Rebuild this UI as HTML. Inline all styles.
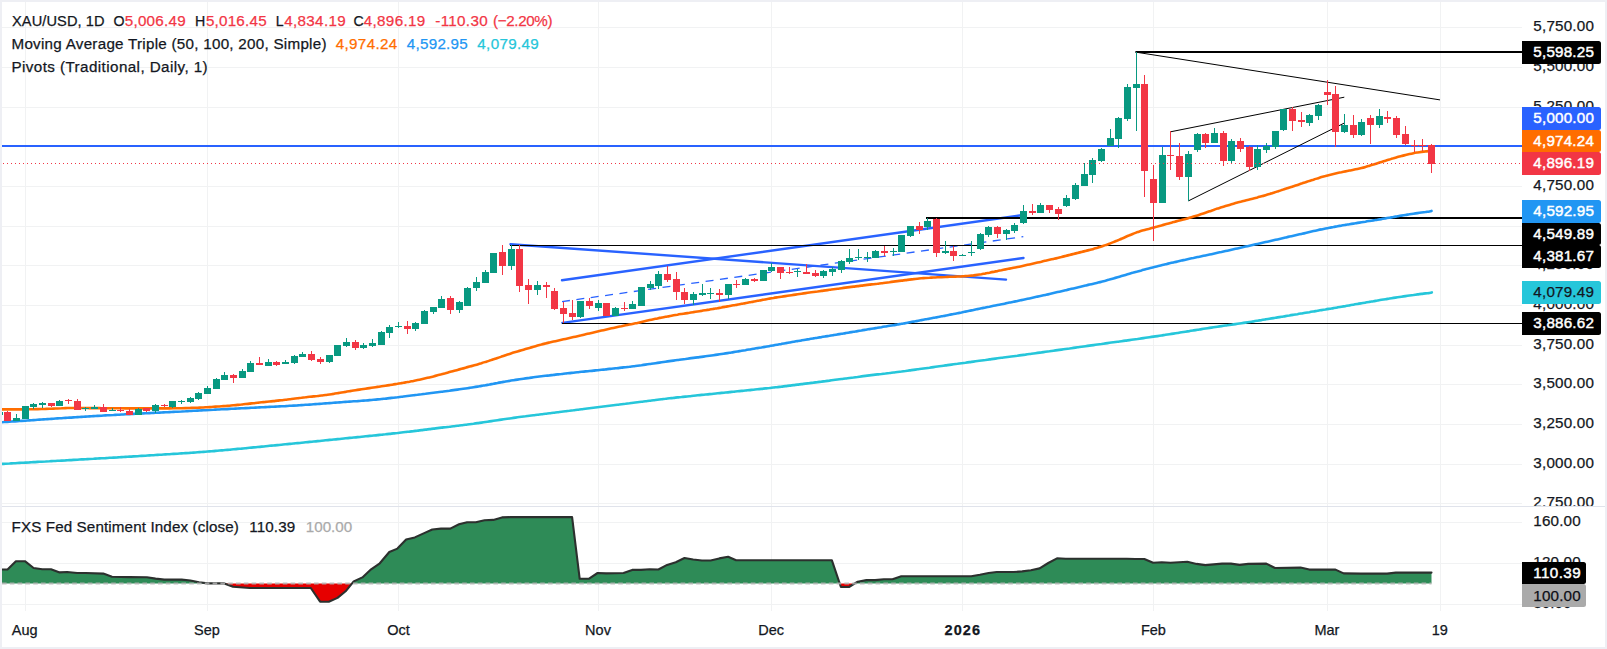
<!DOCTYPE html>
<html lang="en"><head><meta charset="utf-8"><title>XAU/USD 1D chart</title>
<style>html,body{margin:0;padding:0;background:#fff;overflow:hidden}svg{display:block}text{white-space:pre}</style></head>
<body>
<svg width="1607" height="649" viewBox="0 0 1607 649" font-family="Liberation Sans, Arial, sans-serif" font-size="15.2">
<rect x="0" y="0" width="1607" height="649" fill="#fff"/>
<g stroke="#f1f2f3" stroke-width="1" shape-rendering="crispEdges">
<line x1="2" x2="1522" y1="27.5" y2="27.5"/>
<line x1="2" x2="1522" y1="67.5" y2="67.5"/>
<line x1="2" x2="1522" y1="107.5" y2="107.5"/>
<line x1="2" x2="1522" y1="146.5" y2="146.5"/>
<line x1="2" x2="1522" y1="186.5" y2="186.5"/>
<line x1="2" x2="1522" y1="226.5" y2="226.5"/>
<line x1="2" x2="1522" y1="265.5" y2="265.5"/>
<line x1="2" x2="1522" y1="305.5" y2="305.5"/>
<line x1="2" x2="1522" y1="345.5" y2="345.5"/>
<line x1="2" x2="1522" y1="384.5" y2="384.5"/>
<line x1="2" x2="1522" y1="424.5" y2="424.5"/>
<line x1="2" x2="1522" y1="464.5" y2="464.5"/>
<line x1="2" x2="1522" y1="503.5" y2="503.5"/>
<line x1="2" x2="1522" y1="522.5" y2="522.5"/>
<line x1="2" x2="1522" y1="563.5" y2="563.5"/>
<line x1="2" x2="1522" y1="604.5" y2="604.5"/>
<line x1="25.5" x2="25.5" y1="2" y2="611"/>
<line x1="207.5" x2="207.5" y1="2" y2="611"/>
<line x1="398.5" x2="398.5" y1="2" y2="611"/>
<line x1="598.5" x2="598.5" y1="2" y2="611"/>
<line x1="771.5" x2="771.5" y1="2" y2="611"/>
<line x1="962.5" x2="962.5" y1="2" y2="611"/>
<line x1="1153.5" x2="1153.5" y1="2" y2="611"/>
<line x1="1327.5" x2="1327.5" y1="2" y2="611"/>
<line x1="1440.5" x2="1440.5" y1="2" y2="611"/>
</g>
<clipPath id="mp"><rect x="2" y="2" width="1520" height="504"/></clipPath>
<clipPath id="ma"><rect x="1522" y="2" width="83" height="504"/></clipPath>
<clipPath id="ip"><rect x="2" y="507" width="1520" height="104"/></clipPath>
<clipPath id="ia"><rect x="1522" y="507" width="83" height="104"/></clipPath>
<g clip-path="url(#mp)">
<line x1="0" x2="1522" y1="146" y2="146" stroke="#2962ff" stroke-width="2"/>
<g stroke="#2962ff" stroke-width="2.4" fill="none" stroke-linecap="round">
<line x1="510.5" y1="244.2" x2="1006" y2="279.6"/>
<line x1="562" y1="280.3" x2="1023.3" y2="215"/>
<line x1="562.4" y1="322.9" x2="1023.5" y2="258"/>
<line x1="562" y1="301.6" x2="1023.3" y2="236.7" stroke-width="1.3" stroke-dasharray="8 6.5" stroke-linecap="butt"/>
</g>
<g stroke="#000" fill="none">
<line x1="510" y1="245.5" x2="1522" y2="245.5" stroke-width="1"/>
<line x1="562" y1="323.5" x2="1522" y2="323.5" stroke-width="1"/>
<line x1="926" y1="218" x2="1522" y2="218" stroke-width="2"/>
<line x1="1135.5" y1="52" x2="1522" y2="52" stroke-width="2"/>
<line x1="1135.6" y1="52.1" x2="1440" y2="99.9" stroke-width="1"/>
<line x1="1170.5" y1="131.8" x2="1344.3" y2="97.2" stroke-width="1"/>
<line x1="1188.4" y1="200.9" x2="1344" y2="123.2" stroke-width="1"/>
</g>
<path d="M1.5,463.9C2.2,463.9 4.2,463.8 5.5,463.7C6.8,463.6 8.2,463.5 9.5,463.5C10.8,463.4 12.2,463.3 13.5,463.2C14.8,463.2 16.2,463.1 17.5,463.0C18.8,462.9 20.2,462.9 21.5,462.8C22.8,462.7 24.2,462.7 25.5,462.6C26.8,462.5 28.2,462.4 29.5,462.4C30.8,462.3 32.2,462.2 33.5,462.1C34.8,462.1 36.2,462.0 37.5,461.9C38.8,461.8 40.2,461.8 41.5,461.7C42.8,461.6 44.2,461.5 45.5,461.5C46.8,461.4 48.2,461.3 49.5,461.3C50.8,461.2 52.2,461.1 53.5,461.0C54.8,461.0 56.2,460.9 57.5,460.8C58.8,460.7 60.2,460.7 61.5,460.6C62.8,460.5 64.2,460.4 65.5,460.4C66.8,460.3 68.2,460.2 69.5,460.1C70.8,460.1 72.2,460.0 73.5,459.9C74.8,459.8 76.2,459.7 77.5,459.7C78.8,459.6 80.2,459.5 81.5,459.4C82.8,459.4 84.2,459.3 85.5,459.2C86.8,459.1 88.2,459.1 89.5,459.0C90.8,458.9 92.2,458.8 93.5,458.8C94.8,458.7 96.2,458.6 97.5,458.5C98.8,458.4 100.2,458.4 101.5,458.3C102.8,458.2 104.2,458.1 105.5,458.1C106.8,458.0 108.2,457.9 109.5,457.8C110.8,457.7 112.2,457.7 113.5,457.6C114.8,457.5 116.2,457.4 117.5,457.4C118.8,457.3 120.2,457.2 121.5,457.1C122.8,457.0 124.2,457.0 125.5,456.9C126.8,456.8 128.2,456.7 129.5,456.6C130.8,456.6 132.2,456.5 133.5,456.4C134.8,456.3 136.2,456.2 137.5,456.2C138.8,456.1 140.2,456.0 141.5,455.9C142.8,455.8 144.2,455.7 145.5,455.7C146.8,455.6 148.2,455.5 149.5,455.4C150.8,455.3 152.2,455.3 153.5,455.2C154.8,455.1 156.2,455.0 157.5,454.9C158.8,454.8 160.2,454.8 161.5,454.7C162.8,454.6 164.2,454.5 165.5,454.4C166.8,454.3 168.2,454.3 169.5,454.2C170.8,454.1 172.2,454.0 173.5,453.9C174.8,453.8 176.2,453.7 177.5,453.7C178.8,453.6 180.2,453.5 181.5,453.4C182.8,453.3 184.2,453.2 185.5,453.1C186.8,453.0 188.2,452.9 189.5,452.9C190.8,452.8 192.2,452.7 193.5,452.6C194.8,452.5 196.2,452.4 197.5,452.3C198.8,452.2 200.2,452.1 201.5,452.0C202.8,451.9 204.2,451.8 205.5,451.7C206.8,451.6 208.2,451.5 209.5,451.4C210.8,451.3 212.2,451.2 213.5,451.1C214.8,451.0 216.2,450.8 217.5,450.7C218.8,450.6 220.2,450.5 221.5,450.4C222.8,450.3 224.2,450.1 225.5,450.0C226.8,449.9 228.2,449.8 229.5,449.7C230.8,449.6 232.2,449.4 233.5,449.3C234.8,449.2 236.2,449.1 237.5,448.9C238.8,448.8 240.2,448.7 241.5,448.6C242.8,448.4 244.2,448.3 245.5,448.2C246.8,448.1 248.2,447.9 249.5,447.8C250.8,447.7 252.2,447.5 253.5,447.4C254.8,447.3 256.2,447.2 257.5,447.0C258.8,446.9 260.2,446.8 261.5,446.6C262.8,446.5 264.2,446.4 265.5,446.2C266.8,446.1 268.2,446.0 269.5,445.8C270.8,445.7 272.2,445.6 273.5,445.5C274.8,445.3 276.2,445.2 277.5,445.1C278.8,444.9 280.2,444.8 281.5,444.7C282.8,444.5 284.2,444.4 285.5,444.3C286.8,444.2 288.2,444.0 289.5,443.9C290.8,443.8 292.2,443.6 293.5,443.5C294.8,443.4 296.2,443.2 297.5,443.1C298.8,443.0 300.2,442.9 301.5,442.7C302.8,442.6 304.2,442.5 305.5,442.3C306.8,442.2 308.2,442.1 309.5,441.9C310.8,441.8 312.2,441.7 313.5,441.5C314.8,441.4 316.2,441.3 317.5,441.1C318.8,441.0 320.2,440.9 321.5,440.7C322.8,440.6 324.2,440.5 325.5,440.3C326.8,440.2 328.2,440.1 329.5,439.9C330.8,439.8 332.2,439.7 333.5,439.5C334.8,439.4 336.2,439.3 337.5,439.1C338.8,439.0 340.2,438.9 341.5,438.7C342.8,438.6 344.2,438.5 345.5,438.3C346.8,438.2 348.2,438.1 349.5,437.9C350.8,437.8 352.2,437.7 353.5,437.5C354.8,437.4 356.2,437.3 357.5,437.1C358.8,437.0 360.2,436.9 361.5,436.7C362.8,436.6 364.2,436.5 365.5,436.3C366.8,436.2 368.2,436.1 369.5,435.9C370.8,435.8 372.2,435.7 373.5,435.5C374.8,435.4 376.2,435.3 377.5,435.1C378.8,435.0 380.2,434.8 381.5,434.7C382.8,434.6 384.2,434.4 385.5,434.3C386.8,434.1 388.2,434.0 389.5,433.9C390.8,433.7 392.2,433.6 393.5,433.4C394.8,433.3 396.2,433.1 397.5,433.0C398.8,432.8 400.2,432.7 401.5,432.5C402.8,432.4 404.2,432.2 405.5,432.0C406.8,431.9 408.2,431.7 409.5,431.6C410.8,431.4 412.2,431.2 413.5,431.1C414.8,430.9 416.2,430.7 417.5,430.6C418.8,430.4 420.2,430.3 421.5,430.1C422.8,429.9 424.2,429.8 425.5,429.6C426.8,429.4 428.2,429.3 429.5,429.1C430.8,428.9 432.2,428.8 433.5,428.6C434.8,428.4 436.2,428.3 437.5,428.1C438.8,428.0 440.2,427.8 441.5,427.6C442.8,427.5 444.2,427.3 445.5,427.2C446.8,427.0 448.2,426.8 449.5,426.7C450.8,426.5 452.2,426.4 453.5,426.2C454.8,426.0 456.2,425.9 457.5,425.7C458.8,425.5 460.2,425.4 461.5,425.2C462.8,425.0 464.2,424.9 465.5,424.7C466.8,424.5 468.2,424.4 469.5,424.2C470.8,424.0 472.2,423.8 473.5,423.7C474.8,423.5 476.2,423.3 477.5,423.1C478.8,422.9 480.2,422.8 481.5,422.6C482.8,422.4 484.2,422.2 485.5,422.0C486.8,421.8 488.2,421.6 489.5,421.4C490.8,421.2 492.2,421.0 493.5,420.8C494.8,420.6 496.2,420.4 497.5,420.2C498.8,420.0 500.2,419.8 501.5,419.6C502.8,419.4 504.2,419.2 505.5,419.0C506.8,418.9 508.2,418.7 509.5,418.5C510.8,418.3 512.2,418.1 513.5,417.9C514.8,417.7 516.2,417.5 517.5,417.3C518.8,417.2 520.2,417.0 521.5,416.8C522.8,416.6 524.2,416.4 525.5,416.3C526.8,416.1 528.2,415.9 529.5,415.7C530.8,415.6 532.2,415.4 533.5,415.2C534.8,415.0 536.2,414.9 537.5,414.7C538.8,414.5 540.2,414.4 541.5,414.2C542.8,414.0 544.2,413.9 545.5,413.7C546.8,413.5 548.2,413.4 549.5,413.2C550.8,413.0 552.2,412.9 553.5,412.7C554.8,412.5 556.2,412.4 557.5,412.2C558.8,412.0 560.2,411.9 561.5,411.7C562.8,411.6 564.2,411.4 565.5,411.2C566.8,411.1 568.2,410.9 569.5,410.8C570.8,410.6 572.2,410.4 573.5,410.3C574.8,410.1 576.2,410.0 577.5,409.8C578.8,409.6 580.2,409.5 581.5,409.3C582.8,409.1 584.2,409.0 585.5,408.8C586.8,408.7 588.2,408.5 589.5,408.3C590.8,408.2 592.2,408.0 593.5,407.8C594.8,407.7 596.2,407.5 597.5,407.3C598.8,407.2 600.2,407.0 601.5,406.8C602.8,406.7 604.2,406.5 605.5,406.3C606.8,406.2 608.2,406.0 609.5,405.8C610.8,405.7 612.2,405.5 613.5,405.3C614.8,405.2 616.2,405.0 617.5,404.8C618.8,404.6 620.2,404.5 621.5,404.3C622.8,404.1 624.2,403.9 625.5,403.8C626.8,403.6 628.2,403.4 629.5,403.3C630.8,403.1 632.2,402.9 633.5,402.7C634.8,402.6 636.2,402.4 637.5,402.2C638.8,402.1 640.2,401.9 641.5,401.7C642.8,401.5 644.2,401.4 645.5,401.2C646.8,401.0 648.2,400.9 649.5,400.7C650.8,400.5 652.2,400.4 653.5,400.2C654.8,400.0 656.2,399.9 657.5,399.7C658.8,399.6 660.2,399.4 661.5,399.2C662.8,399.1 664.2,398.9 665.5,398.8C666.8,398.6 668.2,398.5 669.5,398.3C670.8,398.2 672.2,398.0 673.5,397.9C674.8,397.7 676.2,397.6 677.5,397.4C678.8,397.3 680.2,397.1 681.5,397.0C682.8,396.8 684.2,396.7 685.5,396.6C686.8,396.4 688.2,396.3 689.5,396.2C690.8,396.0 692.2,395.9 693.5,395.7C694.8,395.6 696.2,395.5 697.5,395.3C698.8,395.2 700.2,395.1 701.5,394.9C702.8,394.8 704.2,394.7 705.5,394.5C706.8,394.4 708.2,394.3 709.5,394.1C710.8,394.0 712.2,393.9 713.5,393.7C714.8,393.6 716.2,393.5 717.5,393.3C718.8,393.2 720.2,393.1 721.5,392.9C722.8,392.8 724.2,392.7 725.5,392.5C726.8,392.4 728.2,392.3 729.5,392.1C730.8,392.0 732.2,391.8 733.5,391.7C734.8,391.6 736.2,391.4 737.5,391.3C738.8,391.2 740.2,391.0 741.5,390.9C742.8,390.8 744.2,390.6 745.5,390.5C746.8,390.4 748.2,390.2 749.5,390.1C750.8,390.0 752.2,389.8 753.5,389.7C754.8,389.5 756.2,389.4 757.5,389.3C758.8,389.1 760.2,389.0 761.5,388.9C762.8,388.7 764.2,388.6 765.5,388.4C766.8,388.3 768.2,388.1 769.5,388.0C770.8,387.8 772.2,387.7 773.5,387.5C774.8,387.4 776.2,387.2 777.5,387.1C778.8,386.9 780.2,386.7 781.5,386.6C782.8,386.4 784.2,386.3 785.5,386.1C786.8,385.9 788.2,385.8 789.5,385.6C790.8,385.4 792.2,385.3 793.5,385.1C794.8,384.9 796.2,384.8 797.5,384.6C798.8,384.4 800.2,384.3 801.5,384.1C802.8,383.9 804.2,383.8 805.5,383.6C806.8,383.4 808.2,383.2 809.5,383.1C810.8,382.9 812.2,382.7 813.5,382.6C814.8,382.4 816.2,382.2 817.5,382.1C818.8,381.9 820.2,381.7 821.5,381.6C822.8,381.4 824.2,381.2 825.5,381.1C826.8,380.9 828.2,380.7 829.5,380.6C830.8,380.4 832.2,380.2 833.5,380.0C834.8,379.9 836.2,379.7 837.5,379.5C838.8,379.4 840.2,379.2 841.5,379.0C842.8,378.8 844.2,378.7 845.5,378.5C846.8,378.3 848.2,378.2 849.5,378.0C850.8,377.8 852.2,377.6 853.5,377.5C854.8,377.3 856.2,377.1 857.5,377.0C858.8,376.8 860.2,376.6 861.5,376.4C862.8,376.3 864.2,376.1 865.5,375.9C866.8,375.8 868.2,375.6 869.5,375.4C870.8,375.3 872.2,375.1 873.5,374.9C874.8,374.8 876.2,374.6 877.5,374.4C878.8,374.3 880.2,374.1 881.5,374.0C882.8,373.8 884.2,373.6 885.5,373.5C886.8,373.3 888.2,373.1 889.5,373.0C890.8,372.8 892.2,372.7 893.5,372.5C894.8,372.3 896.2,372.2 897.5,372.0C898.8,371.8 900.2,371.6 901.5,371.5C902.8,371.3 904.2,371.1 905.5,371.0C906.8,370.8 908.2,370.6 909.5,370.4C910.8,370.2 912.2,370.1 913.5,369.9C914.8,369.7 916.2,369.5 917.5,369.3C918.8,369.1 920.2,369.0 921.5,368.8C922.8,368.6 924.2,368.4 925.5,368.2C926.8,368.0 928.2,367.8 929.5,367.7C930.8,367.5 932.2,367.3 933.5,367.1C934.8,366.9 936.2,366.7 937.5,366.5C938.8,366.4 940.2,366.2 941.5,366.0C942.8,365.8 944.2,365.6 945.5,365.4C946.8,365.2 948.2,365.1 949.5,364.9C950.8,364.7 952.2,364.5 953.5,364.3C954.8,364.1 956.2,363.9 957.5,363.8C958.8,363.6 960.2,363.4 961.5,363.2C962.8,363.0 964.2,362.8 965.5,362.7C966.8,362.5 968.2,362.3 969.5,362.1C970.8,361.9 972.2,361.8 973.5,361.6C974.8,361.4 976.2,361.2 977.5,361.0C978.8,360.9 980.2,360.7 981.5,360.5C982.8,360.3 984.2,360.1 985.5,360.0C986.8,359.8 988.2,359.6 989.5,359.4C990.8,359.2 992.2,359.1 993.5,358.9C994.8,358.7 996.2,358.5 997.5,358.3C998.8,358.2 1000.2,358.0 1001.5,357.8C1002.8,357.6 1004.2,357.5 1005.5,357.3C1006.8,357.1 1008.2,356.9 1009.5,356.7C1010.8,356.6 1012.2,356.4 1013.5,356.2C1014.8,356.0 1016.2,355.8 1017.5,355.7C1018.8,355.5 1020.2,355.3 1021.5,355.1C1022.8,354.9 1024.2,354.7 1025.5,354.6C1026.8,354.4 1028.2,354.2 1029.5,354.0C1030.8,353.8 1032.2,353.7 1033.5,353.5C1034.8,353.3 1036.2,353.1 1037.5,352.9C1038.8,352.7 1040.2,352.5 1041.5,352.4C1042.8,352.2 1044.2,352.0 1045.5,351.8C1046.8,351.6 1048.2,351.4 1049.5,351.3C1050.8,351.1 1052.2,350.9 1053.5,350.7C1054.8,350.5 1056.2,350.3 1057.5,350.1C1058.8,350.0 1060.2,349.8 1061.5,349.6C1062.8,349.4 1064.2,349.2 1065.5,349.0C1066.8,348.8 1068.2,348.6 1069.5,348.5C1070.8,348.3 1072.2,348.1 1073.5,347.9C1074.8,347.7 1076.2,347.5 1077.5,347.3C1078.8,347.1 1080.2,347.0 1081.5,346.8C1082.8,346.6 1084.2,346.4 1085.5,346.2C1086.8,346.0 1088.2,345.8 1089.5,345.6C1090.8,345.5 1092.2,345.3 1093.5,345.1C1094.8,344.9 1096.2,344.7 1097.5,344.5C1098.8,344.3 1100.2,344.1 1101.5,344.0C1102.8,343.8 1104.2,343.6 1105.5,343.4C1106.8,343.2 1108.2,343.0 1109.5,342.8C1110.8,342.7 1112.2,342.5 1113.5,342.3C1114.8,342.1 1116.2,341.9 1117.5,341.7C1118.8,341.5 1120.2,341.4 1121.5,341.2C1122.8,341.0 1124.2,340.8 1125.5,340.6C1126.8,340.4 1128.2,340.3 1129.5,340.1C1130.8,339.9 1132.2,339.7 1133.5,339.5C1134.8,339.3 1136.2,339.1 1137.5,339.0C1138.8,338.8 1140.2,338.6 1141.5,338.4C1142.8,338.2 1144.2,338.0 1145.5,337.8C1146.8,337.6 1148.2,337.4 1149.5,337.2C1150.8,337.0 1152.2,336.8 1153.5,336.6C1154.8,336.5 1156.2,336.3 1157.5,336.1C1158.8,335.9 1160.2,335.7 1161.5,335.5C1162.8,335.3 1164.2,335.0 1165.5,334.8C1166.8,334.6 1168.2,334.4 1169.5,334.2C1170.8,334.0 1172.2,333.8 1173.5,333.6C1174.8,333.4 1176.2,333.2 1177.5,333.0C1178.8,332.8 1180.2,332.6 1181.5,332.3C1182.8,332.1 1184.2,331.9 1185.5,331.7C1186.8,331.5 1188.2,331.3 1189.5,331.1C1190.8,330.8 1192.2,330.6 1193.5,330.4C1194.8,330.2 1196.2,330.0 1197.5,329.8C1198.8,329.6 1200.2,329.3 1201.5,329.1C1202.8,328.9 1204.2,328.7 1205.5,328.5C1206.8,328.3 1208.2,328.1 1209.5,327.9C1210.8,327.7 1212.2,327.5 1213.5,327.3C1214.8,327.1 1216.2,326.9 1217.5,326.7C1218.8,326.5 1220.2,326.3 1221.5,326.1C1222.8,325.9 1224.2,325.7 1225.5,325.5C1226.8,325.3 1228.2,325.2 1229.5,325.0C1230.8,324.8 1232.2,324.6 1233.5,324.4C1234.8,324.2 1236.2,324.0 1237.5,323.8C1238.8,323.6 1240.2,323.4 1241.5,323.2C1242.8,323.0 1244.2,322.8 1245.5,322.6C1246.8,322.4 1248.2,322.2 1249.5,322.0C1250.8,321.8 1252.2,321.6 1253.5,321.4C1254.8,321.1 1256.2,320.9 1257.5,320.7C1258.8,320.5 1260.2,320.3 1261.5,320.1C1262.8,319.8 1264.2,319.6 1265.5,319.4C1266.8,319.2 1268.2,319.0 1269.5,318.7C1270.8,318.5 1272.2,318.3 1273.5,318.1C1274.8,317.9 1276.2,317.6 1277.5,317.4C1278.8,317.2 1280.2,317.0 1281.5,316.8C1282.8,316.6 1284.2,316.3 1285.5,316.1C1286.8,315.9 1288.2,315.7 1289.5,315.5C1290.8,315.2 1292.2,315.0 1293.5,314.8C1294.8,314.6 1296.2,314.4 1297.5,314.2C1298.8,313.9 1300.2,313.7 1301.5,313.5C1302.8,313.3 1304.2,313.1 1305.5,312.8C1306.8,312.6 1308.2,312.4 1309.5,312.2C1310.8,311.9 1312.2,311.7 1313.5,311.5C1314.8,311.3 1316.2,311.0 1317.5,310.8C1318.8,310.6 1320.2,310.4 1321.5,310.1C1322.8,309.9 1324.2,309.7 1325.5,309.5C1326.8,309.2 1328.2,309.0 1329.5,308.8C1330.8,308.6 1332.2,308.3 1333.5,308.1C1334.8,307.9 1336.2,307.7 1337.5,307.4C1338.8,307.2 1340.2,307.0 1341.5,306.7C1342.8,306.5 1344.2,306.3 1345.5,306.1C1346.8,305.8 1348.2,305.6 1349.5,305.4C1350.8,305.1 1352.2,304.9 1353.5,304.7C1354.8,304.4 1356.2,304.2 1357.5,304.0C1358.8,303.7 1360.2,303.5 1361.5,303.3C1362.8,303.0 1364.2,302.8 1365.5,302.6C1366.8,302.3 1368.2,302.1 1369.5,301.9C1370.8,301.7 1372.2,301.4 1373.5,301.2C1374.8,301.0 1376.2,300.7 1377.5,300.5C1378.8,300.3 1380.2,300.1 1381.5,299.8C1382.8,299.6 1384.2,299.4 1385.5,299.2C1386.8,299.0 1388.2,298.7 1389.5,298.5C1390.8,298.3 1392.2,298.1 1393.5,297.9C1394.8,297.7 1396.2,297.5 1397.5,297.3C1398.8,297.1 1400.2,296.9 1401.5,296.7C1402.8,296.5 1404.2,296.3 1405.5,296.1C1406.8,295.9 1408.2,295.7 1409.5,295.5C1410.8,295.3 1412.2,295.1 1413.5,295.0C1414.8,294.8 1416.2,294.6 1417.5,294.4C1418.8,294.2 1420.2,294.1 1421.5,293.9C1422.8,293.7 1424.2,293.6 1425.5,293.4C1426.8,293.2 1428.5,293.1 1429.5,292.9C1430.5,292.7 1431.4,292.5 1431.8,292.4" fill="none" stroke="#26c6da" stroke-width="2.6" stroke-linecap="round"/>
<path d="M1.5,422.2C2.2,422.2 4.2,422.0 5.5,421.9C6.8,421.9 8.2,421.8 9.5,421.7C10.8,421.6 12.2,421.5 13.5,421.4C14.8,421.4 16.2,421.3 17.5,421.2C18.8,421.1 20.2,421.0 21.5,420.9C22.8,420.8 24.2,420.7 25.5,420.7C26.8,420.6 28.2,420.5 29.5,420.4C30.8,420.3 32.2,420.2 33.5,420.1C34.8,420.0 36.2,419.9 37.5,419.8C38.8,419.7 40.2,419.6 41.5,419.5C42.8,419.4 44.2,419.4 45.5,419.3C46.8,419.2 48.2,419.1 49.5,419.0C50.8,418.9 52.2,418.8 53.5,418.7C54.8,418.6 56.2,418.5 57.5,418.4C58.8,418.3 60.2,418.3 61.5,418.2C62.8,418.1 64.2,418.0 65.5,417.9C66.8,417.8 68.2,417.7 69.5,417.6C70.8,417.6 72.2,417.5 73.5,417.4C74.8,417.3 76.2,417.2 77.5,417.1C78.8,417.0 80.2,417.0 81.5,416.9C82.8,416.8 84.2,416.7 85.5,416.6C86.8,416.5 88.2,416.5 89.5,416.4C90.8,416.3 92.2,416.2 93.5,416.1C94.8,416.0 96.2,416.0 97.5,415.9C98.8,415.8 100.2,415.7 101.5,415.7C102.8,415.6 104.2,415.5 105.5,415.4C106.8,415.3 108.2,415.3 109.5,415.2C110.8,415.1 112.2,415.0 113.5,415.0C114.8,414.9 116.2,414.8 117.5,414.7C118.8,414.7 120.2,414.6 121.5,414.5C122.8,414.5 124.2,414.4 125.5,414.3C126.8,414.2 128.2,414.2 129.5,414.1C130.8,414.0 132.2,414.0 133.5,413.9C134.8,413.8 136.2,413.8 137.5,413.7C138.8,413.6 140.2,413.6 141.5,413.5C142.8,413.4 144.2,413.4 145.5,413.3C146.8,413.2 148.2,413.2 149.5,413.1C150.8,413.0 152.2,413.0 153.5,412.9C154.8,412.8 156.2,412.8 157.5,412.7C158.8,412.6 160.2,412.6 161.5,412.5C162.8,412.4 164.2,412.4 165.5,412.3C166.8,412.2 168.2,412.2 169.5,412.1C170.8,412.0 172.2,412.0 173.5,411.9C174.8,411.8 176.2,411.8 177.5,411.7C178.8,411.6 180.2,411.5 181.5,411.5C182.8,411.4 184.2,411.3 185.5,411.3C186.8,411.2 188.2,411.1 189.5,411.0C190.8,411.0 192.2,410.9 193.5,410.8C194.8,410.8 196.2,410.7 197.5,410.6C198.8,410.5 200.2,410.5 201.5,410.4C202.8,410.3 204.2,410.3 205.5,410.2C206.8,410.1 208.2,410.0 209.5,410.0C210.8,409.9 212.2,409.8 213.5,409.8C214.8,409.7 216.2,409.6 217.5,409.5C218.8,409.5 220.2,409.4 221.5,409.3C222.8,409.3 224.2,409.2 225.5,409.1C226.8,409.1 228.2,409.0 229.5,408.9C230.8,408.8 232.2,408.8 233.5,408.7C234.8,408.6 236.2,408.6 237.5,408.5C238.8,408.4 240.2,408.4 241.5,408.3C242.8,408.2 244.2,408.2 245.5,408.1C246.8,408.0 248.2,407.9 249.5,407.9C250.8,407.8 252.2,407.8 253.5,407.7C254.8,407.6 256.2,407.6 257.5,407.5C258.8,407.4 260.2,407.4 261.5,407.3C262.8,407.2 264.2,407.2 265.5,407.1C266.8,407.0 268.2,407.0 269.5,406.9C270.8,406.8 272.2,406.8 273.5,406.7C274.8,406.6 276.2,406.6 277.5,406.5C278.8,406.4 280.2,406.4 281.5,406.3C282.8,406.2 284.2,406.1 285.5,406.1C286.8,406.0 288.2,405.9 289.5,405.8C290.8,405.8 292.2,405.7 293.5,405.6C294.8,405.5 296.2,405.4 297.5,405.4C298.8,405.3 300.2,405.2 301.5,405.1C302.8,405.0 304.2,404.9 305.5,404.8C306.8,404.7 308.2,404.7 309.5,404.6C310.8,404.5 312.2,404.4 313.5,404.3C314.8,404.2 316.2,404.1 317.5,404.0C318.8,403.9 320.2,403.8 321.5,403.7C322.8,403.6 324.2,403.5 325.5,403.4C326.8,403.3 328.2,403.2 329.5,403.1C330.8,403.0 332.2,402.9 333.5,402.8C334.8,402.7 336.2,402.6 337.5,402.5C338.8,402.4 340.2,402.3 341.5,402.2C342.8,402.1 344.2,402.0 345.5,401.9C346.8,401.8 348.2,401.7 349.5,401.6C350.8,401.5 352.2,401.4 353.5,401.3C354.8,401.2 356.2,401.1 357.5,401.1C358.8,401.0 360.2,400.9 361.5,400.8C362.8,400.7 364.2,400.6 365.5,400.5C366.8,400.4 368.2,400.3 369.5,400.1C370.8,400.0 372.2,399.9 373.5,399.8C374.8,399.7 376.2,399.6 377.5,399.4C378.8,399.3 380.2,399.2 381.5,399.0C382.8,398.9 384.2,398.7 385.5,398.6C386.8,398.4 388.2,398.3 389.5,398.1C390.8,398.0 392.2,397.8 393.5,397.7C394.8,397.5 396.2,397.3 397.5,397.2C398.8,397.0 400.2,396.9 401.5,396.7C402.8,396.5 404.2,396.4 405.5,396.2C406.8,396.1 408.2,395.9 409.5,395.7C410.8,395.6 412.2,395.4 413.5,395.2C414.8,395.1 416.2,394.9 417.5,394.8C418.8,394.6 420.2,394.4 421.5,394.3C422.8,394.1 424.2,393.9 425.5,393.8C426.8,393.6 428.2,393.4 429.5,393.2C430.8,393.1 432.2,392.9 433.5,392.7C434.8,392.6 436.2,392.4 437.5,392.2C438.8,392.1 440.2,391.9 441.5,391.7C442.8,391.5 444.2,391.4 445.5,391.2C446.8,391.0 448.2,390.8 449.5,390.7C450.8,390.5 452.2,390.3 453.5,390.1C454.8,390.0 456.2,389.8 457.5,389.6C458.8,389.4 460.2,389.2 461.5,389.0C462.8,388.9 464.2,388.7 465.5,388.5C466.8,388.3 468.2,388.1 469.5,387.9C470.8,387.7 472.2,387.5 473.5,387.2C474.8,387.0 476.2,386.8 477.5,386.6C478.8,386.4 480.2,386.1 481.5,385.9C482.8,385.7 484.2,385.4 485.5,385.2C486.8,385.0 488.2,384.7 489.5,384.5C490.8,384.2 492.2,384.0 493.5,383.7C494.8,383.5 496.2,383.2 497.5,383.0C498.8,382.7 500.2,382.5 501.5,382.3C502.8,382.0 504.2,381.8 505.5,381.5C506.8,381.3 508.2,381.1 509.5,380.9C510.8,380.6 512.2,380.4 513.5,380.2C514.8,380.0 516.2,379.8 517.5,379.6C518.8,379.4 520.2,379.2 521.5,379.0C522.8,378.8 524.2,378.6 525.5,378.4C526.8,378.2 528.2,378.0 529.5,377.9C530.8,377.7 532.2,377.5 533.5,377.3C534.8,377.2 536.2,377.0 537.5,376.8C538.8,376.7 540.2,376.5 541.5,376.3C542.8,376.2 544.2,376.0 545.5,375.8C546.8,375.7 548.2,375.5 549.5,375.4C550.8,375.2 552.2,375.0 553.5,374.9C554.8,374.7 556.2,374.6 557.5,374.4C558.8,374.3 560.2,374.1 561.5,374.0C562.8,373.8 564.2,373.7 565.5,373.5C566.8,373.4 568.2,373.2 569.5,373.1C570.8,373.0 572.2,372.8 573.5,372.7C574.8,372.5 576.2,372.4 577.5,372.3C578.8,372.1 580.2,372.0 581.5,371.8C582.8,371.7 584.2,371.6 585.5,371.4C586.8,371.3 588.2,371.2 589.5,371.0C590.8,370.9 592.2,370.8 593.5,370.6C594.8,370.5 596.2,370.3 597.5,370.2C598.8,370.1 600.2,369.9 601.5,369.8C602.8,369.7 604.2,369.5 605.5,369.4C606.8,369.2 608.2,369.1 609.5,368.9C610.8,368.8 612.2,368.6 613.5,368.5C614.8,368.4 616.2,368.2 617.5,368.1C618.8,367.9 620.2,367.8 621.5,367.6C622.8,367.5 624.2,367.3 625.5,367.2C626.8,367.0 628.2,366.8 629.5,366.7C630.8,366.5 632.2,366.4 633.5,366.2C634.8,366.0 636.2,365.9 637.5,365.7C638.8,365.5 640.2,365.3 641.5,365.2C642.8,365.0 644.2,364.8 645.5,364.6C646.8,364.4 648.2,364.2 649.5,364.0C650.8,363.8 652.2,363.7 653.5,363.5C654.8,363.3 656.2,363.1 657.5,362.9C658.8,362.7 660.2,362.5 661.5,362.3C662.8,362.1 664.2,361.9 665.5,361.7C666.8,361.5 668.2,361.3 669.5,361.1C670.8,361.0 672.2,360.8 673.5,360.6C674.8,360.4 676.2,360.2 677.5,360.0C678.8,359.8 680.2,359.7 681.5,359.5C682.8,359.3 684.2,359.1 685.5,359.0C686.8,358.8 688.2,358.6 689.5,358.4C690.8,358.3 692.2,358.1 693.5,357.9C694.8,357.8 696.2,357.6 697.5,357.4C698.8,357.2 700.2,357.1 701.5,356.9C702.8,356.7 704.2,356.5 705.5,356.3C706.8,356.2 708.2,356.0 709.5,355.8C710.8,355.6 712.2,355.4 713.5,355.2C714.8,355.0 716.2,354.8 717.5,354.6C718.8,354.4 720.2,354.2 721.5,354.0C722.8,353.8 724.2,353.6 725.5,353.4C726.8,353.2 728.2,353.0 729.5,352.8C730.8,352.6 732.2,352.3 733.5,352.1C734.8,351.9 736.2,351.7 737.5,351.5C738.8,351.3 740.2,351.0 741.5,350.8C742.8,350.6 744.2,350.4 745.5,350.2C746.8,349.9 748.2,349.7 749.5,349.5C750.8,349.3 752.2,349.1 753.5,348.8C754.8,348.6 756.2,348.4 757.5,348.1C758.8,347.9 760.2,347.7 761.5,347.5C762.8,347.2 764.2,347.0 765.5,346.8C766.8,346.5 768.2,346.3 769.5,346.1C770.8,345.8 772.2,345.6 773.5,345.4C774.8,345.1 776.2,344.9 777.5,344.7C778.8,344.4 780.2,344.2 781.5,343.9C782.8,343.7 784.2,343.5 785.5,343.2C786.8,343.0 788.2,342.8 789.5,342.5C790.8,342.3 792.2,342.1 793.5,341.8C794.8,341.6 796.2,341.4 797.5,341.1C798.8,340.9 800.2,340.7 801.5,340.4C802.8,340.2 804.2,340.0 805.5,339.7C806.8,339.5 808.2,339.3 809.5,339.1C810.8,338.8 812.2,338.6 813.5,338.4C814.8,338.2 816.2,337.9 817.5,337.7C818.8,337.5 820.2,337.3 821.5,337.1C822.8,336.8 824.2,336.6 825.5,336.4C826.8,336.2 828.2,336.0 829.5,335.8C830.8,335.5 832.2,335.3 833.5,335.1C834.8,334.9 836.2,334.7 837.5,334.4C838.8,334.2 840.2,334.0 841.5,333.8C842.8,333.6 844.2,333.3 845.5,333.1C846.8,332.9 848.2,332.7 849.5,332.4C850.8,332.2 852.2,332.0 853.5,331.8C854.8,331.6 856.2,331.3 857.5,331.1C858.8,330.9 860.2,330.7 861.5,330.5C862.8,330.2 864.2,330.0 865.5,329.8C866.8,329.6 868.2,329.4 869.5,329.1C870.8,328.9 872.2,328.7 873.5,328.5C874.8,328.3 876.2,328.0 877.5,327.8C878.8,327.6 880.2,327.4 881.5,327.2C882.8,326.9 884.2,326.7 885.5,326.5C886.8,326.3 888.2,326.1 889.5,325.8C890.8,325.6 892.2,325.4 893.5,325.2C894.8,325.0 896.2,324.7 897.5,324.5C898.8,324.3 900.2,324.0 901.5,323.8C902.8,323.6 904.2,323.3 905.5,323.1C906.8,322.8 908.2,322.6 909.5,322.3C910.8,322.1 912.2,321.9 913.5,321.6C914.8,321.4 916.2,321.1 917.5,320.9C918.8,320.6 920.2,320.4 921.5,320.1C922.8,319.9 924.2,319.6 925.5,319.3C926.8,319.1 928.2,318.8 929.5,318.6C930.8,318.3 932.2,318.1 933.5,317.8C934.8,317.6 936.2,317.3 937.5,317.1C938.8,316.8 940.2,316.6 941.5,316.3C942.8,316.1 944.2,315.8 945.5,315.6C946.8,315.3 948.2,315.1 949.5,314.8C950.8,314.5 952.2,314.3 953.5,314.0C954.8,313.8 956.2,313.5 957.5,313.2C958.8,313.0 960.2,312.7 961.5,312.5C962.8,312.2 964.2,311.9 965.5,311.6C966.8,311.4 968.2,311.1 969.5,310.8C970.8,310.5 972.2,310.3 973.5,310.0C974.8,309.7 976.2,309.4 977.5,309.1C978.8,308.9 980.2,308.6 981.5,308.3C982.8,308.0 984.2,307.8 985.5,307.5C986.8,307.2 988.2,306.9 989.5,306.7C990.8,306.4 992.2,306.1 993.5,305.8C994.8,305.6 996.2,305.3 997.5,305.0C998.8,304.8 1000.2,304.5 1001.5,304.2C1002.8,304.0 1004.2,303.7 1005.5,303.4C1006.8,303.2 1008.2,302.9 1009.5,302.6C1010.8,302.3 1012.2,302.1 1013.5,301.8C1014.8,301.5 1016.2,301.3 1017.5,301.0C1018.8,300.7 1020.2,300.4 1021.5,300.1C1022.8,299.9 1024.2,299.6 1025.5,299.3C1026.8,299.0 1028.2,298.7 1029.5,298.4C1030.8,298.1 1032.2,297.8 1033.5,297.5C1034.8,297.2 1036.2,296.9 1037.5,296.6C1038.8,296.4 1040.2,296.1 1041.5,295.8C1042.8,295.5 1044.2,295.2 1045.5,294.9C1046.8,294.6 1048.2,294.3 1049.5,293.9C1050.8,293.6 1052.2,293.3 1053.5,293.0C1054.8,292.7 1056.2,292.4 1057.5,292.1C1058.8,291.8 1060.2,291.5 1061.5,291.2C1062.8,290.9 1064.2,290.6 1065.5,290.3C1066.8,290.0 1068.2,289.7 1069.5,289.3C1070.8,289.0 1072.2,288.7 1073.5,288.4C1074.8,288.1 1076.2,287.8 1077.5,287.5C1078.8,287.2 1080.2,286.8 1081.5,286.5C1082.8,286.2 1084.2,285.9 1085.5,285.6C1086.8,285.3 1088.2,285.0 1089.5,284.6C1090.8,284.3 1092.2,284.0 1093.5,283.7C1094.8,283.4 1096.2,283.0 1097.5,282.7C1098.8,282.4 1100.2,282.1 1101.5,281.7C1102.8,281.4 1104.2,281.0 1105.5,280.7C1106.8,280.3 1108.2,279.9 1109.5,279.6C1110.8,279.2 1112.2,278.8 1113.5,278.4C1114.8,278.1 1116.2,277.7 1117.5,277.3C1118.8,276.9 1120.2,276.5 1121.5,276.1C1122.8,275.7 1124.2,275.3 1125.5,274.9C1126.8,274.5 1128.2,274.1 1129.5,273.7C1130.8,273.3 1132.2,272.9 1133.5,272.6C1134.8,272.2 1136.2,271.8 1137.5,271.5C1138.8,271.1 1140.2,270.7 1141.5,270.4C1142.8,270.0 1144.2,269.7 1145.5,269.3C1146.8,269.0 1148.2,268.6 1149.5,268.3C1150.8,268.0 1152.2,267.6 1153.5,267.3C1154.8,267.0 1156.2,266.6 1157.5,266.3C1158.8,266.0 1160.2,265.6 1161.5,265.3C1162.8,265.0 1164.2,264.6 1165.5,264.3C1166.8,264.0 1168.2,263.7 1169.5,263.3C1170.8,263.0 1172.2,262.7 1173.5,262.4C1174.8,262.1 1176.2,261.8 1177.5,261.4C1178.8,261.1 1180.2,260.8 1181.5,260.5C1182.8,260.2 1184.2,260.0 1185.5,259.7C1186.8,259.4 1188.2,259.1 1189.5,258.8C1190.8,258.5 1192.2,258.2 1193.5,258.0C1194.8,257.7 1196.2,257.4 1197.5,257.1C1198.8,256.8 1200.2,256.6 1201.5,256.3C1202.8,256.0 1204.2,255.7 1205.5,255.4C1206.8,255.1 1208.2,254.9 1209.5,254.6C1210.8,254.3 1212.2,254.0 1213.5,253.7C1214.8,253.4 1216.2,253.1 1217.5,252.8C1218.8,252.5 1220.2,252.2 1221.5,252.0C1222.8,251.7 1224.2,251.4 1225.5,251.1C1226.8,250.8 1228.2,250.5 1229.5,250.2C1230.8,249.9 1232.2,249.6 1233.5,249.3C1234.8,249.0 1236.2,248.7 1237.5,248.4C1238.8,248.1 1240.2,247.8 1241.5,247.5C1242.8,247.2 1244.2,246.9 1245.5,246.6C1246.8,246.3 1248.2,246.0 1249.5,245.7C1250.8,245.4 1252.2,245.1 1253.5,244.8C1254.8,244.5 1256.2,244.2 1257.5,243.9C1258.8,243.6 1260.2,243.3 1261.5,243.0C1262.8,242.7 1264.2,242.4 1265.5,242.1C1266.8,241.8 1268.2,241.5 1269.5,241.2C1270.8,240.9 1272.2,240.6 1273.5,240.3C1274.8,240.0 1276.2,239.7 1277.5,239.4C1278.8,239.1 1280.2,238.8 1281.5,238.5C1282.8,238.2 1284.2,237.9 1285.5,237.6C1286.8,237.3 1288.2,237.0 1289.5,236.6C1290.8,236.3 1292.2,236.0 1293.5,235.7C1294.8,235.4 1296.2,235.1 1297.5,234.8C1298.8,234.5 1300.2,234.2 1301.5,233.9C1302.8,233.6 1304.2,233.3 1305.5,232.9C1306.8,232.6 1308.2,232.3 1309.5,232.0C1310.8,231.7 1312.2,231.4 1313.5,231.1C1314.8,230.8 1316.2,230.5 1317.5,230.2C1318.8,229.9 1320.2,229.6 1321.5,229.4C1322.8,229.1 1324.2,228.8 1325.5,228.5C1326.8,228.3 1328.2,228.0 1329.5,227.7C1330.8,227.5 1332.2,227.2 1333.5,227.0C1334.8,226.7 1336.2,226.5 1337.5,226.2C1338.8,226.0 1340.2,225.8 1341.5,225.6C1342.8,225.3 1344.2,225.1 1345.5,224.9C1346.8,224.7 1348.2,224.4 1349.5,224.2C1350.8,224.0 1352.2,223.8 1353.5,223.6C1354.8,223.4 1356.2,223.1 1357.5,222.9C1358.8,222.7 1360.2,222.5 1361.5,222.3C1362.8,222.1 1364.2,221.9 1365.5,221.7C1366.8,221.4 1368.2,221.2 1369.5,221.0C1370.8,220.8 1372.2,220.6 1373.5,220.4C1374.8,220.2 1376.2,219.9 1377.5,219.7C1378.8,219.5 1380.2,219.3 1381.5,219.1C1382.8,218.8 1384.2,218.6 1385.5,218.4C1386.8,218.1 1388.2,217.9 1389.5,217.7C1390.8,217.5 1392.2,217.2 1393.5,217.0C1394.8,216.8 1396.2,216.5 1397.5,216.3C1398.8,216.1 1400.2,215.9 1401.5,215.6C1402.8,215.4 1404.2,215.2 1405.5,215.0C1406.8,214.8 1408.2,214.5 1409.5,214.3C1410.8,214.1 1412.2,213.9 1413.5,213.7C1414.8,213.5 1416.2,213.3 1417.5,213.1C1418.8,212.9 1420.2,212.7 1421.5,212.5C1422.8,212.3 1424.2,212.1 1425.5,212.0C1426.8,211.8 1428.5,211.6 1429.5,211.4C1430.5,211.2 1431.2,211.0 1431.5,210.9" fill="none" stroke="#2196f3" stroke-width="2.6" stroke-linecap="round"/>
<path d="M1.5,409.4C2.2,409.4 4.2,409.4 5.5,409.4C6.8,409.4 8.2,409.4 9.5,409.4C10.8,409.4 12.2,409.4 13.5,409.4C14.8,409.4 16.2,409.4 17.5,409.4C18.8,409.4 20.2,409.4 21.5,409.4C22.8,409.4 24.2,409.4 25.5,409.3C26.8,409.3 28.2,409.3 29.5,409.3C30.8,409.3 32.2,409.2 33.5,409.2C34.8,409.2 36.2,409.1 37.5,409.1C38.8,409.0 40.2,409.0 41.5,409.0C42.8,408.9 44.2,408.9 45.5,408.9C46.8,408.8 48.2,408.8 49.5,408.8C50.8,408.7 52.2,408.7 53.5,408.6C54.8,408.6 56.2,408.5 57.5,408.5C58.8,408.4 60.2,408.3 61.5,408.3C62.8,408.2 64.2,408.2 65.5,408.1C66.8,408.1 68.2,408.0 69.5,408.0C70.8,408.0 72.2,408.0 73.5,408.0C74.8,408.0 76.2,408.0 77.5,408.0C78.8,408.0 80.2,408.0 81.5,408.0C82.8,408.0 84.2,408.0 85.5,408.0C86.8,408.0 88.2,408.1 89.5,408.1C90.8,408.1 92.2,408.1 93.5,408.1C94.8,408.1 96.2,408.1 97.5,408.1C98.8,408.1 100.2,408.2 101.5,408.2C102.8,408.2 104.2,408.2 105.5,408.2C106.8,408.2 108.2,408.2 109.5,408.2C110.8,408.2 112.2,408.3 113.5,408.3C114.8,408.3 116.2,408.3 117.5,408.3C118.8,408.3 120.2,408.3 121.5,408.3C122.8,408.3 124.2,408.3 125.5,408.4C126.8,408.4 128.2,408.4 129.5,408.4C130.8,408.4 132.2,408.4 133.5,408.4C134.8,408.4 136.2,408.4 137.5,408.4C138.8,408.4 140.2,408.4 141.5,408.4C142.8,408.4 144.2,408.4 145.5,408.4C146.8,408.4 148.2,408.4 149.5,408.4C150.8,408.4 152.2,408.4 153.5,408.4C154.8,408.4 156.2,408.4 157.5,408.4C158.8,408.4 160.2,408.4 161.5,408.4C162.8,408.4 164.2,408.4 165.5,408.4C166.8,408.4 168.2,408.4 169.5,408.4C170.8,408.3 172.2,408.3 173.5,408.3C174.8,408.3 176.2,408.3 177.5,408.2C178.8,408.2 180.2,408.2 181.5,408.2C182.8,408.1 184.2,408.1 185.5,408.1C186.8,408.1 188.2,408.0 189.5,408.0C190.8,407.9 192.2,407.9 193.5,407.8C194.8,407.8 196.2,407.7 197.5,407.7C198.8,407.6 200.2,407.6 201.5,407.5C202.8,407.5 204.2,407.4 205.5,407.3C206.8,407.3 208.2,407.2 209.5,407.1C210.8,407.0 212.2,406.9 213.5,406.8C214.8,406.7 216.2,406.6 217.5,406.5C218.8,406.5 220.2,406.4 221.5,406.3C222.8,406.2 224.2,406.1 225.5,406.0C226.8,405.9 228.2,405.8 229.5,405.7C230.8,405.5 232.2,405.4 233.5,405.3C234.8,405.2 236.2,405.1 237.5,404.9C238.8,404.8 240.2,404.6 241.5,404.5C242.8,404.3 244.2,404.2 245.5,404.0C246.8,403.9 248.2,403.8 249.5,403.6C250.8,403.5 252.2,403.3 253.5,403.2C254.8,403.0 256.2,402.9 257.5,402.7C258.8,402.6 260.2,402.4 261.5,402.3C262.8,402.2 264.2,402.0 265.5,401.9C266.8,401.7 268.2,401.6 269.5,401.5C270.8,401.3 272.2,401.2 273.5,401.1C274.8,400.9 276.2,400.8 277.5,400.6C278.8,400.5 280.2,400.3 281.5,400.2C282.8,400.0 284.2,399.9 285.5,399.7C286.8,399.5 288.2,399.4 289.5,399.2C290.8,399.0 292.2,398.9 293.5,398.7C294.8,398.6 296.2,398.4 297.5,398.2C298.8,398.1 300.2,397.9 301.5,397.8C302.8,397.6 304.2,397.4 305.5,397.3C306.8,397.1 308.2,397.0 309.5,396.8C310.8,396.7 312.2,396.6 313.5,396.4C314.8,396.3 316.2,396.1 317.5,396.0C318.8,395.8 320.2,395.7 321.5,395.5C322.8,395.3 324.2,395.2 325.5,395.0C326.8,394.8 328.2,394.7 329.5,394.5C330.8,394.3 332.2,394.1 333.5,393.9C334.8,393.6 336.2,393.4 337.5,393.2C338.8,393.0 340.2,392.8 341.5,392.5C342.8,392.3 344.2,392.1 345.5,391.9C346.8,391.6 348.2,391.4 349.5,391.2C350.8,391.0 352.2,390.8 353.5,390.5C354.8,390.3 356.2,390.1 357.5,389.9C358.8,389.7 360.2,389.5 361.5,389.3C362.8,389.1 364.2,388.9 365.5,388.7C366.8,388.5 368.2,388.3 369.5,388.1C370.8,387.9 372.2,387.7 373.5,387.5C374.8,387.3 376.2,387.1 377.5,386.9C378.8,386.7 380.2,386.6 381.5,386.3C382.8,386.1 384.2,385.9 385.5,385.7C386.8,385.5 388.2,385.3 389.5,385.1C390.8,384.9 392.2,384.7 393.5,384.4C394.8,384.2 396.2,384.0 397.5,383.8C398.8,383.5 400.2,383.3 401.5,383.1C402.8,382.9 404.2,382.6 405.5,382.4C406.8,382.2 408.2,381.9 409.5,381.7C410.8,381.4 412.2,381.2 413.5,380.9C414.8,380.6 416.2,380.4 417.5,380.1C418.8,379.8 420.2,379.5 421.5,379.2C422.8,378.9 424.2,378.6 425.5,378.3C426.8,378.0 428.2,377.7 429.5,377.4C430.8,377.1 432.2,376.7 433.5,376.4C434.8,376.1 436.2,375.7 437.5,375.3C438.8,375.0 440.2,374.6 441.5,374.3C442.8,373.9 444.2,373.5 445.5,373.2C446.8,372.8 448.2,372.5 449.5,372.1C450.8,371.7 452.2,371.4 453.5,371.0C454.8,370.6 456.2,370.3 457.5,369.9C458.8,369.6 460.2,369.2 461.5,368.8C462.8,368.5 464.2,368.1 465.5,367.7C466.8,367.4 468.2,367.0 469.5,366.6C470.8,366.3 472.2,365.9 473.5,365.5C474.8,365.1 476.2,364.8 477.5,364.4C478.8,364.0 480.2,363.6 481.5,363.2C482.8,362.7 484.2,362.3 485.5,361.9C486.8,361.5 488.2,361.1 489.5,360.6C490.8,360.2 492.2,359.8 493.5,359.3C494.8,358.9 496.2,358.5 497.5,358.0C498.8,357.6 500.2,357.1 501.5,356.6C502.8,356.2 504.2,355.7 505.5,355.2C506.8,354.8 508.2,354.3 509.5,353.9C510.8,353.5 512.2,353.0 513.5,352.6C514.8,352.2 516.2,351.8 517.5,351.4C518.8,351.1 520.2,350.7 521.5,350.3C522.8,349.9 524.2,349.5 525.5,349.1C526.8,348.7 528.2,348.3 529.5,347.9C530.8,347.6 532.2,347.2 533.5,346.8C534.8,346.4 536.2,346.0 537.5,345.6C538.8,345.2 540.2,344.8 541.5,344.5C542.8,344.1 544.2,343.8 545.5,343.5C546.8,343.1 548.2,342.8 549.5,342.5C550.8,342.2 552.2,341.9 553.5,341.6C554.8,341.3 556.2,341.0 557.5,340.7C558.8,340.4 560.2,340.1 561.5,339.8C562.8,339.5 564.2,339.2 565.5,338.9C566.8,338.6 568.2,338.3 569.5,338.0C570.8,337.7 572.2,337.4 573.5,337.1C574.8,336.8 576.2,336.5 577.5,336.2C578.8,335.9 580.2,335.6 581.5,335.3C582.8,334.9 584.2,334.6 585.5,334.3C586.8,334.0 588.2,333.7 589.5,333.4C590.8,333.1 592.2,332.7 593.5,332.4C594.8,332.1 596.2,331.8 597.5,331.5C598.8,331.2 600.2,330.9 601.5,330.6C602.8,330.3 604.2,330.0 605.5,329.7C606.8,329.4 608.2,329.1 609.5,328.8C610.8,328.5 612.2,328.2 613.5,327.9C614.8,327.6 616.2,327.3 617.5,327.0C618.8,326.7 620.2,326.4 621.5,326.2C622.8,325.9 624.2,325.6 625.5,325.3C626.8,325.1 628.2,324.8 629.5,324.5C630.8,324.3 632.2,324.0 633.5,323.7C634.8,323.4 636.2,323.2 637.5,322.9C638.8,322.6 640.2,322.3 641.5,322.0C642.8,321.7 644.2,321.4 645.5,321.1C646.8,320.8 648.2,320.4 649.5,320.1C650.8,319.8 652.2,319.5 653.5,319.2C654.8,318.9 656.2,318.7 657.5,318.4C658.8,318.1 660.2,317.8 661.5,317.6C662.8,317.3 664.2,317.1 665.5,316.8C666.8,316.6 668.2,316.3 669.5,316.1C670.8,315.8 672.2,315.6 673.5,315.3C674.8,315.1 676.2,314.9 677.5,314.7C678.8,314.4 680.2,314.2 681.5,314.0C682.8,313.8 684.2,313.6 685.5,313.4C686.8,313.2 688.2,313.0 689.5,312.8C690.8,312.5 692.2,312.3 693.5,312.1C694.8,311.9 696.2,311.7 697.5,311.5C698.8,311.3 700.2,311.1 701.5,310.9C702.8,310.6 704.2,310.4 705.5,310.2C706.8,310.0 708.2,309.8 709.5,309.6C710.8,309.3 712.2,309.1 713.5,308.9C714.8,308.7 716.2,308.4 717.5,308.2C718.8,308.0 720.2,307.7 721.5,307.5C722.8,307.2 724.2,307.0 725.5,306.8C726.8,306.5 728.2,306.3 729.5,306.0C730.8,305.8 732.2,305.6 733.5,305.3C734.8,305.1 736.2,304.8 737.5,304.6C738.8,304.3 740.2,304.1 741.5,303.8C742.8,303.6 744.2,303.3 745.5,303.1C746.8,302.8 748.2,302.6 749.5,302.3C750.8,302.1 752.2,301.8 753.5,301.6C754.8,301.3 756.2,301.1 757.5,300.8C758.8,300.6 760.2,300.3 761.5,300.1C762.8,299.8 764.2,299.6 765.5,299.4C766.8,299.1 768.2,298.9 769.5,298.6C770.8,298.4 772.2,298.2 773.5,298.0C774.8,297.7 776.2,297.5 777.5,297.3C778.8,297.1 780.2,296.9 781.5,296.7C782.8,296.5 784.2,296.3 785.5,296.1C786.8,295.9 788.2,295.7 789.5,295.5C790.8,295.3 792.2,295.1 793.5,294.9C794.8,294.7 796.2,294.5 797.5,294.3C798.8,294.1 800.2,293.9 801.5,293.7C802.8,293.5 804.2,293.3 805.5,293.1C806.8,292.9 808.2,292.7 809.5,292.5C810.8,292.4 812.2,292.2 813.5,292.0C814.8,291.8 816.2,291.6 817.5,291.5C818.8,291.3 820.2,291.1 821.5,290.9C822.8,290.7 824.2,290.6 825.5,290.4C826.8,290.2 828.2,290.0 829.5,289.8C830.8,289.6 832.2,289.5 833.5,289.3C834.8,289.1 836.2,288.9 837.5,288.7C838.8,288.5 840.2,288.4 841.5,288.2C842.8,288.0 844.2,287.8 845.5,287.6C846.8,287.5 848.2,287.3 849.5,287.1C850.8,287.0 852.2,286.8 853.5,286.6C854.8,286.4 856.2,286.3 857.5,286.1C858.8,285.9 860.2,285.8 861.5,285.6C862.8,285.4 864.2,285.3 865.5,285.1C866.8,285.0 868.2,284.8 869.5,284.6C870.8,284.5 872.2,284.3 873.5,284.2C874.8,284.0 876.2,283.8 877.5,283.7C878.8,283.5 880.2,283.4 881.5,283.2C882.8,283.0 884.2,282.9 885.5,282.7C886.8,282.5 888.2,282.3 889.5,282.2C890.8,282.0 892.2,281.8 893.5,281.6C894.8,281.5 896.2,281.3 897.5,281.1C898.8,281.0 900.2,280.8 901.5,280.6C902.8,280.4 904.2,280.3 905.5,280.1C906.8,279.9 908.2,279.8 909.5,279.6C910.8,279.4 912.2,279.2 913.5,279.1C914.8,278.9 916.2,278.8 917.5,278.7C918.8,278.5 920.2,278.4 921.5,278.3C922.8,278.2 924.2,278.1 925.5,278.0C926.8,277.9 928.2,277.8 929.5,277.8C930.8,277.7 932.2,277.6 933.5,277.5C934.8,277.5 936.2,277.4 937.5,277.3C938.8,277.3 940.2,277.2 941.5,277.2C942.8,277.1 944.2,277.0 945.5,277.0C946.8,276.9 948.2,276.9 949.5,276.8C950.8,276.8 952.2,276.7 953.5,276.7C954.8,276.6 956.2,276.6 957.5,276.5C958.8,276.5 960.2,276.4 961.5,276.4C962.8,276.3 964.2,276.2 965.5,276.1C966.8,276.0 968.2,275.9 969.5,275.8C970.8,275.7 972.2,275.5 973.5,275.4C974.8,275.2 976.2,275.0 977.5,274.8C978.8,274.6 980.2,274.4 981.5,274.2C982.8,273.9 984.2,273.7 985.5,273.4C986.8,273.2 988.2,272.9 989.5,272.7C990.8,272.4 992.2,272.1 993.5,271.9C994.8,271.6 996.2,271.3 997.5,271.1C998.8,270.8 1000.2,270.5 1001.5,270.3C1002.8,270.0 1004.2,269.7 1005.5,269.4C1006.8,269.2 1008.2,268.9 1009.5,268.6C1010.8,268.4 1012.2,268.1 1013.5,267.8C1014.8,267.6 1016.2,267.3 1017.5,267.0C1018.8,266.8 1020.2,266.5 1021.5,266.2C1022.8,265.9 1024.2,265.6 1025.5,265.3C1026.8,265.0 1028.2,264.7 1029.5,264.4C1030.8,264.1 1032.2,263.8 1033.5,263.5C1034.8,263.2 1036.2,262.9 1037.5,262.6C1038.8,262.3 1040.2,262.0 1041.5,261.7C1042.8,261.3 1044.2,261.0 1045.5,260.7C1046.8,260.4 1048.2,260.1 1049.5,259.8C1050.8,259.5 1052.2,259.2 1053.5,258.9C1054.8,258.6 1056.2,258.3 1057.5,257.9C1058.8,257.6 1060.2,257.3 1061.5,257.0C1062.8,256.6 1064.2,256.3 1065.5,256.0C1066.8,255.6 1068.2,255.3 1069.5,255.0C1070.8,254.6 1072.2,254.3 1073.5,254.0C1074.8,253.6 1076.2,253.3 1077.5,253.0C1078.8,252.6 1080.2,252.3 1081.5,252.0C1082.8,251.6 1084.2,251.3 1085.5,251.0C1086.8,250.6 1088.2,250.3 1089.5,250.0C1090.8,249.6 1092.2,249.3 1093.5,248.9C1094.8,248.5 1096.2,248.2 1097.5,247.8C1098.8,247.3 1100.2,246.9 1101.5,246.5C1102.8,246.0 1104.2,245.6 1105.5,245.1C1106.8,244.6 1108.2,244.2 1109.5,243.7C1110.8,243.2 1112.2,242.6 1113.5,242.1C1114.8,241.6 1116.2,241.0 1117.5,240.5C1118.8,239.9 1120.2,239.3 1121.5,238.7C1122.8,238.2 1124.2,237.6 1125.5,237.0C1126.8,236.4 1128.2,235.8 1129.5,235.3C1130.8,234.7 1132.2,234.2 1133.5,233.6C1134.8,233.1 1136.2,232.6 1137.5,232.1C1138.8,231.7 1140.2,231.2 1141.5,230.8C1142.8,230.4 1144.2,230.1 1145.5,229.7C1146.8,229.4 1148.2,229.0 1149.5,228.7C1150.8,228.3 1152.2,228.0 1153.5,227.7C1154.8,227.3 1156.2,226.9 1157.5,226.6C1158.8,226.2 1160.2,225.8 1161.5,225.4C1162.8,225.1 1164.2,224.7 1165.5,224.3C1166.8,223.9 1168.2,223.6 1169.5,223.2C1170.8,222.8 1172.2,222.5 1173.5,222.1C1174.8,221.8 1176.2,221.5 1177.5,221.1C1178.8,220.8 1180.2,220.4 1181.5,220.1C1182.8,219.7 1184.2,219.4 1185.5,219.0C1186.8,218.6 1188.2,218.2 1189.5,217.8C1190.8,217.4 1192.2,217.0 1193.5,216.6C1194.8,216.2 1196.2,215.8 1197.5,215.4C1198.8,215.0 1200.2,214.5 1201.5,214.1C1202.8,213.7 1204.2,213.2 1205.5,212.7C1206.8,212.3 1208.2,211.8 1209.5,211.3C1210.8,210.9 1212.2,210.4 1213.5,210.0C1214.8,209.5 1216.2,209.0 1217.5,208.6C1218.8,208.2 1220.2,207.7 1221.5,207.3C1222.8,206.9 1224.2,206.5 1225.5,206.1C1226.8,205.7 1228.2,205.3 1229.5,204.9C1230.8,204.5 1232.2,204.1 1233.5,203.7C1234.8,203.3 1236.2,202.9 1237.5,202.5C1238.8,202.2 1240.2,201.8 1241.5,201.5C1242.8,201.1 1244.2,200.8 1245.5,200.4C1246.8,200.1 1248.2,199.7 1249.5,199.4C1250.8,199.1 1252.2,198.7 1253.5,198.4C1254.8,198.1 1256.2,197.7 1257.5,197.4C1258.8,197.0 1260.2,196.7 1261.5,196.3C1262.8,196.0 1264.2,195.6 1265.5,195.2C1266.8,194.8 1268.2,194.4 1269.5,194.0C1270.8,193.6 1272.2,193.2 1273.5,192.7C1274.8,192.3 1276.2,191.9 1277.5,191.4C1278.8,191.0 1280.2,190.6 1281.5,190.1C1282.8,189.7 1284.2,189.3 1285.5,188.8C1286.8,188.4 1288.2,188.0 1289.5,187.5C1290.8,187.1 1292.2,186.7 1293.5,186.2C1294.8,185.8 1296.2,185.3 1297.5,184.9C1298.8,184.5 1300.2,184.0 1301.5,183.6C1302.8,183.1 1304.2,182.7 1305.5,182.3C1306.8,181.8 1308.2,181.4 1309.5,180.9C1310.8,180.5 1312.2,180.1 1313.5,179.7C1314.8,179.2 1316.2,178.8 1317.5,178.4C1318.8,178.0 1320.2,177.5 1321.5,177.1C1322.8,176.7 1324.2,176.3 1325.5,176.0C1326.8,175.6 1328.2,175.2 1329.5,174.9C1330.8,174.6 1332.2,174.3 1333.5,174.0C1334.8,173.7 1336.2,173.4 1337.5,173.1C1338.8,172.8 1340.2,172.5 1341.5,172.3C1342.8,172.0 1344.2,171.7 1345.5,171.4C1346.8,171.2 1348.2,170.9 1349.5,170.6C1350.8,170.3 1352.2,170.1 1353.5,169.8C1354.8,169.5 1356.2,169.2 1357.5,168.9C1358.8,168.6 1360.2,168.3 1361.5,168.0C1362.8,167.7 1364.2,167.3 1365.5,166.9C1366.8,166.6 1368.2,166.1 1369.5,165.7C1370.8,165.3 1372.2,164.9 1373.5,164.5C1374.8,164.1 1376.2,163.7 1377.5,163.2C1378.8,162.8 1380.2,162.4 1381.5,162.0C1382.8,161.6 1384.2,161.1 1385.5,160.7C1386.8,160.3 1388.2,159.9 1389.5,159.5C1390.8,159.1 1392.2,158.6 1393.5,158.3C1394.8,157.9 1396.2,157.5 1397.5,157.1C1398.8,156.7 1400.2,156.4 1401.5,156.0C1402.8,155.7 1404.2,155.4 1405.5,155.0C1406.8,154.7 1408.2,154.4 1409.5,154.1C1410.8,153.8 1412.2,153.5 1413.5,153.2C1414.8,152.9 1416.2,152.7 1417.5,152.5C1418.8,152.3 1420.2,152.1 1421.5,151.9C1422.8,151.7 1424.2,151.5 1425.5,151.4C1426.8,151.2 1428.5,151.1 1429.5,151.0C1430.5,150.8 1431.2,150.7 1431.5,150.6" fill="none" stroke="#ff6d00" stroke-width="2.6" stroke-linecap="round"/>
<g fill="#089981" shape-rendering="crispEdges"><rect x="16.0" y="414" width="1" height="7"/><rect x="13.0" y="418" width="7" height="3"/><rect x="25.0" y="406" width="1" height="13"/><rect x="22.0" y="406" width="7" height="13"/><rect x="33.0" y="403" width="1" height="6"/><rect x="30.0" y="404" width="7" height="3"/><rect x="42.0" y="402" width="1" height="6"/><rect x="39.0" y="403" width="7" height="2"/><rect x="59.0" y="400" width="1" height="6"/><rect x="56.0" y="401" width="7" height="5"/><rect x="85.0" y="407" width="1" height="4"/><rect x="82.0" y="408" width="7" height="1"/><rect x="94.0" y="405" width="1" height="4"/><rect x="91.0" y="407" width="7" height="2"/><rect x="112.0" y="408" width="1" height="3"/><rect x="109.0" y="410" width="7" height="1"/><rect x="138.0" y="408" width="1" height="7"/><rect x="135.0" y="409" width="7" height="6"/><rect x="155.0" y="404" width="1" height="9"/><rect x="152.0" y="405" width="7" height="6"/><rect x="172.0" y="401" width="1" height="7"/><rect x="169.0" y="401" width="7" height="6"/><rect x="181.0" y="400" width="1" height="4"/><rect x="178.0" y="401" width="7" height="1"/><rect x="190.0" y="397" width="1" height="6"/><rect x="187.0" y="398" width="7" height="4"/><rect x="198.0" y="392" width="1" height="8"/><rect x="195.0" y="393" width="7" height="6"/><rect x="207.0" y="386" width="1" height="8"/><rect x="204.0" y="388" width="7" height="6"/><rect x="216.0" y="378" width="1" height="11"/><rect x="213.0" y="379" width="7" height="10"/><rect x="224.0" y="372" width="1" height="8"/><rect x="221.0" y="375" width="7" height="5"/><rect x="242.0" y="369" width="1" height="9"/><rect x="239.0" y="371" width="7" height="7"/><rect x="250.0" y="361" width="1" height="11"/><rect x="247.0" y="363" width="7" height="9"/><rect x="268.0" y="359" width="1" height="7"/><rect x="265.0" y="362" width="7" height="4"/><rect x="285.0" y="360" width="1" height="4"/><rect x="282.0" y="362" width="7" height="2"/><rect x="294.0" y="355" width="1" height="9"/><rect x="291.0" y="356" width="7" height="7"/><rect x="302.0" y="352" width="1" height="5"/><rect x="299.0" y="354" width="7" height="3"/><rect x="329.0" y="355" width="1" height="8"/><rect x="326.0" y="355" width="7" height="7"/><rect x="337.0" y="345" width="1" height="11"/><rect x="334.0" y="345" width="7" height="11"/><rect x="346.0" y="338" width="1" height="9"/><rect x="343.0" y="342" width="7" height="4"/><rect x="363.0" y="343" width="1" height="6"/><rect x="360.0" y="345" width="7" height="3"/><rect x="372.0" y="339" width="1" height="8"/><rect x="369.0" y="343" width="7" height="3"/><rect x="381.0" y="331" width="1" height="14"/><rect x="378.0" y="332" width="7" height="13"/><rect x="389.0" y="325" width="1" height="13"/><rect x="386.0" y="327" width="7" height="6"/><rect x="398.0" y="322" width="1" height="6"/><rect x="395.0" y="326" width="7" height="1"/><rect x="415.0" y="322" width="1" height="9"/><rect x="412.0" y="323" width="7" height="6"/><rect x="424.0" y="310" width="1" height="14"/><rect x="421.0" y="311" width="7" height="13"/><rect x="433.0" y="307" width="1" height="7"/><rect x="430.0" y="307" width="7" height="5"/><rect x="441.0" y="296" width="1" height="12"/><rect x="438.0" y="299" width="7" height="9"/><rect x="459.0" y="301" width="1" height="12"/><rect x="456.0" y="302" width="7" height="8"/><rect x="467.0" y="287" width="1" height="19"/><rect x="464.0" y="288" width="7" height="18"/><rect x="476.0" y="277" width="1" height="14"/><rect x="473.0" y="282" width="7" height="6"/><rect x="485.0" y="270" width="1" height="13"/><rect x="482.0" y="272" width="7" height="11"/><rect x="493.0" y="253" width="1" height="20"/><rect x="490.0" y="253" width="7" height="20"/><rect x="511.0" y="245" width="1" height="25"/><rect x="508.0" y="249" width="7" height="17"/><rect x="537.0" y="281" width="1" height="14"/><rect x="534.0" y="285" width="7" height="5"/><rect x="580.0" y="301" width="1" height="17"/><rect x="577.0" y="301" width="7" height="16"/><rect x="598.0" y="300" width="1" height="11"/><rect x="595.0" y="303" width="7" height="5"/><rect x="615.0" y="307" width="1" height="9"/><rect x="612.0" y="308" width="7" height="8"/><rect x="632.0" y="301" width="1" height="8"/><rect x="629.0" y="304" width="7" height="5"/><rect x="641.0" y="287" width="1" height="19"/><rect x="638.0" y="287" width="7" height="19"/><rect x="650.0" y="281" width="1" height="9"/><rect x="647.0" y="284" width="7" height="4"/><rect x="658.0" y="271" width="1" height="18"/><rect x="655.0" y="274" width="7" height="12"/><rect x="693.0" y="292" width="1" height="13"/><rect x="690.0" y="294" width="7" height="6"/><rect x="702.0" y="284" width="1" height="12"/><rect x="699.0" y="293" width="7" height="2"/><rect x="710.0" y="288" width="1" height="11"/><rect x="707.0" y="293" width="7" height="1"/><rect x="728.0" y="284" width="1" height="15"/><rect x="725.0" y="284" width="7" height="11"/><rect x="745.0" y="278" width="1" height="7"/><rect x="742.0" y="279" width="7" height="6"/><rect x="763.0" y="270" width="1" height="11"/><rect x="760.0" y="270" width="7" height="11"/><rect x="771.0" y="263" width="1" height="9"/><rect x="768.0" y="267" width="7" height="4"/><rect x="797.0" y="269" width="1" height="8"/><rect x="794.0" y="271" width="7" height="1"/><rect x="823.0" y="270" width="1" height="8"/><rect x="820.0" y="271" width="7" height="5"/><rect x="832.0" y="267" width="1" height="9"/><rect x="829.0" y="269" width="7" height="3"/><rect x="841.0" y="260" width="1" height="13"/><rect x="838.0" y="261" width="7" height="9"/><rect x="849.0" y="249" width="1" height="15"/><rect x="846.0" y="258" width="7" height="4"/><rect x="858.0" y="249" width="1" height="11"/><rect x="855.0" y="257" width="7" height="1"/><rect x="867.0" y="252" width="1" height="10"/><rect x="864.0" y="257" width="7" height="1"/><rect x="875.0" y="250" width="1" height="8"/><rect x="872.0" y="251" width="7" height="7"/><rect x="893.0" y="248" width="1" height="8"/><rect x="890.0" y="251" width="7" height="1"/><rect x="901.0" y="235" width="1" height="17"/><rect x="898.0" y="235" width="7" height="17"/><rect x="910.0" y="226" width="1" height="11"/><rect x="907.0" y="226" width="7" height="10"/><rect x="927.0" y="218" width="1" height="12"/><rect x="924.0" y="221" width="7" height="6"/><rect x="945.0" y="241" width="1" height="13"/><rect x="942.0" y="251" width="7" height="2"/><rect x="962.0" y="254" width="1" height="2"/><rect x="959.0" y="255" width="7" height="1"/><rect x="971.0" y="241" width="1" height="15"/><rect x="968.0" y="252" width="7" height="1"/><rect x="980.0" y="233" width="1" height="17"/><rect x="977.0" y="234" width="7" height="15"/><rect x="988.0" y="226" width="1" height="11"/><rect x="985.0" y="227" width="7" height="8"/><rect x="1006.0" y="229" width="1" height="11"/><rect x="1003.0" y="230" width="7" height="4"/><rect x="1014.0" y="223" width="1" height="10"/><rect x="1011.0" y="225" width="7" height="6"/><rect x="1023.0" y="205" width="1" height="19"/><rect x="1020.0" y="211" width="7" height="12"/><rect x="1040.0" y="203" width="1" height="10"/><rect x="1037.0" y="205" width="7" height="8"/><rect x="1066.0" y="195" width="1" height="12"/><rect x="1063.0" y="198" width="7" height="8"/><rect x="1075.0" y="183" width="1" height="17"/><rect x="1072.0" y="185" width="7" height="14"/><rect x="1084.0" y="163" width="1" height="23"/><rect x="1081.0" y="174" width="7" height="12"/><rect x="1092.0" y="158" width="1" height="25"/><rect x="1089.0" y="160" width="7" height="15"/><rect x="1101.0" y="148" width="1" height="14"/><rect x="1098.0" y="149" width="7" height="12"/><rect x="1110.0" y="129" width="1" height="17"/><rect x="1107.0" y="138" width="7" height="8"/><rect x="1118.0" y="117" width="1" height="31"/><rect x="1115.0" y="118" width="7" height="21"/><rect x="1127.0" y="84" width="1" height="37"/><rect x="1124.0" y="87" width="7" height="32"/><rect x="1136.0" y="52" width="1" height="79"/><rect x="1133.0" y="84" width="7" height="4"/><rect x="1162.0" y="147" width="1" height="56"/><rect x="1159.0" y="155" width="7" height="48"/><rect x="1188.0" y="151" width="1" height="50"/><rect x="1185.0" y="154" width="7" height="23"/><rect x="1197.0" y="133" width="1" height="19"/><rect x="1194.0" y="134" width="7" height="16"/><rect x="1214.0" y="128" width="1" height="15"/><rect x="1211.0" y="133" width="7" height="10"/><rect x="1231.0" y="139" width="1" height="25"/><rect x="1228.0" y="141" width="7" height="20"/><rect x="1257.0" y="145" width="1" height="25"/><rect x="1254.0" y="149" width="7" height="18"/><rect x="1266.0" y="143" width="1" height="10"/><rect x="1263.0" y="146" width="7" height="4"/><rect x="1275.0" y="131" width="1" height="18"/><rect x="1272.0" y="131" width="7" height="16"/><rect x="1283.0" y="109" width="1" height="22"/><rect x="1280.0" y="109" width="7" height="21"/><rect x="1309.0" y="114" width="1" height="12"/><rect x="1306.0" y="115" width="7" height="8"/><rect x="1318.0" y="104" width="1" height="16"/><rect x="1315.0" y="105" width="7" height="11"/><rect x="1344.0" y="114" width="1" height="19"/><rect x="1341.0" y="125" width="7" height="7"/><rect x="1361.0" y="119" width="1" height="17"/><rect x="1358.0" y="122" width="7" height="13"/><rect x="1379.0" y="109" width="1" height="19"/><rect x="1376.0" y="116" width="7" height="9"/><rect x="0" y="412" width="3" height="3"/></g>
<g fill="#f23645" shape-rendering="crispEdges"><rect x="7.0" y="411" width="1" height="10"/><rect x="4.0" y="412" width="7" height="9"/><rect x="51.0" y="403" width="1" height="4"/><rect x="48.0" y="403" width="7" height="3"/><rect x="68.0" y="399" width="1" height="5"/><rect x="65.0" y="400" width="7" height="1"/><rect x="77.0" y="399" width="1" height="11"/><rect x="74.0" y="401" width="7" height="9"/><rect x="103.0" y="404" width="1" height="8"/><rect x="100.0" y="407" width="7" height="5"/><rect x="120.0" y="407" width="1" height="5"/><rect x="117.0" y="410" width="7" height="1"/><rect x="129.0" y="409" width="1" height="6"/><rect x="126.0" y="411" width="7" height="4"/><rect x="146.0" y="408" width="1" height="4"/><rect x="143.0" y="408" width="7" height="3"/><rect x="164.0" y="404" width="1" height="3"/><rect x="161.0" y="405" width="7" height="1"/><rect x="233.0" y="374" width="1" height="9"/><rect x="230.0" y="375" width="7" height="3"/><rect x="259.0" y="357" width="1" height="8"/><rect x="256.0" y="363" width="7" height="2"/><rect x="276.0" y="361" width="1" height="5"/><rect x="273.0" y="362" width="7" height="3"/><rect x="311.0" y="351" width="1" height="10"/><rect x="308.0" y="354" width="7" height="6"/><rect x="320.0" y="357" width="1" height="7"/><rect x="317.0" y="359" width="7" height="3"/><rect x="355.0" y="340" width="1" height="10"/><rect x="352.0" y="342" width="7" height="6"/><rect x="407.0" y="321" width="1" height="13"/><rect x="404.0" y="326" width="7" height="3"/><rect x="450.0" y="296" width="1" height="18"/><rect x="447.0" y="298" width="7" height="12"/><rect x="502.0" y="245" width="1" height="30"/><rect x="499.0" y="252" width="7" height="14"/><rect x="519.0" y="245" width="1" height="47"/><rect x="516.0" y="249" width="7" height="37"/><rect x="528.0" y="279" width="1" height="25"/><rect x="525.0" y="285" width="7" height="5"/><rect x="546.0" y="282" width="1" height="16"/><rect x="543.0" y="285" width="7" height="2"/><rect x="554.0" y="288" width="1" height="22"/><rect x="551.0" y="291" width="7" height="18"/><rect x="563.0" y="302" width="1" height="21"/><rect x="560.0" y="308" width="7" height="6"/><rect x="572.0" y="300" width="1" height="20"/><rect x="569.0" y="313" width="7" height="4"/><rect x="589.0" y="298" width="1" height="11"/><rect x="586.0" y="301" width="7" height="5"/><rect x="606.0" y="303" width="1" height="13"/><rect x="603.0" y="303" width="7" height="13"/><rect x="624.0" y="302" width="1" height="9"/><rect x="621.0" y="308" width="7" height="1"/><rect x="667.0" y="266" width="1" height="16"/><rect x="664.0" y="274" width="7" height="6"/><rect x="676.0" y="272" width="1" height="28"/><rect x="673.0" y="279" width="7" height="13"/><rect x="684.0" y="288" width="1" height="16"/><rect x="681.0" y="292" width="7" height="8"/><rect x="719.0" y="289" width="1" height="13"/><rect x="716.0" y="293" width="7" height="2"/><rect x="736.0" y="280" width="1" height="8"/><rect x="733.0" y="284" width="7" height="1"/><rect x="754.0" y="278" width="1" height="4"/><rect x="751.0" y="279" width="7" height="2"/><rect x="780.0" y="267" width="1" height="12"/><rect x="777.0" y="267" width="7" height="6"/><rect x="789.0" y="267" width="1" height="7"/><rect x="786.0" y="272" width="7" height="1"/><rect x="806.0" y="264" width="1" height="10"/><rect x="803.0" y="272" width="7" height="2"/><rect x="815.0" y="270" width="1" height="7"/><rect x="812.0" y="273" width="7" height="3"/><rect x="884.0" y="246" width="1" height="10"/><rect x="881.0" y="251" width="7" height="2"/><rect x="919.0" y="222" width="1" height="12"/><rect x="916.0" y="226" width="7" height="4"/><rect x="936.0" y="218" width="1" height="39"/><rect x="933.0" y="219" width="7" height="34"/><rect x="953.0" y="246" width="1" height="15"/><rect x="950.0" y="251" width="7" height="5"/><rect x="997.0" y="226" width="1" height="12"/><rect x="994.0" y="227" width="7" height="7"/><rect x="1032.0" y="204" width="1" height="11"/><rect x="1029.0" y="211" width="7" height="2"/><rect x="1049.0" y="205" width="1" height="8"/><rect x="1046.0" y="205" width="7" height="5"/><rect x="1058.0" y="207" width="1" height="13"/><rect x="1055.0" y="209" width="7" height="5"/><rect x="1144.0" y="75" width="1" height="122"/><rect x="1141.0" y="84" width="7" height="87"/><rect x="1153.0" y="165" width="1" height="76"/><rect x="1150.0" y="179" width="7" height="24"/><rect x="1170.0" y="131" width="1" height="39"/><rect x="1167.0" y="155" width="7" height="1"/><rect x="1179.0" y="143" width="1" height="37"/><rect x="1176.0" y="156" width="7" height="21"/><rect x="1205.0" y="133" width="1" height="15"/><rect x="1202.0" y="134" width="7" height="9"/><rect x="1223.0" y="131" width="1" height="35"/><rect x="1220.0" y="133" width="7" height="28"/><rect x="1240.0" y="138" width="1" height="14"/><rect x="1237.0" y="141" width="7" height="8"/><rect x="1249.0" y="146" width="1" height="25"/><rect x="1246.0" y="147" width="7" height="20"/><rect x="1292.0" y="107" width="1" height="24"/><rect x="1289.0" y="109" width="7" height="12"/><rect x="1301.0" y="112" width="1" height="15"/><rect x="1298.0" y="120" width="7" height="2"/><rect x="1327.0" y="80" width="1" height="25"/><rect x="1324.0" y="92" width="7" height="3"/><rect x="1335.0" y="86" width="1" height="61"/><rect x="1332.0" y="94" width="7" height="38"/><rect x="1353.0" y="115" width="1" height="23"/><rect x="1350.0" y="125" width="7" height="10"/><rect x="1370.0" y="115" width="1" height="29"/><rect x="1367.0" y="118" width="7" height="7"/><rect x="1387.0" y="111" width="1" height="12"/><rect x="1384.0" y="117" width="7" height="2"/><rect x="1396.0" y="116" width="1" height="22"/><rect x="1393.0" y="118" width="7" height="17"/><rect x="1405.0" y="126" width="1" height="19"/><rect x="1402.0" y="134" width="7" height="10"/><rect x="1414.0" y="140" width="1" height="12"/><rect x="1411.0" y="145" width="7" height="1"/><rect x="1422.0" y="139" width="1" height="12"/><rect x="1419.0" y="145" width="7" height="1"/><rect x="1431.0" y="144" width="1" height="29"/><rect x="1428.0" y="145" width="7" height="19"/></g>
<line x1="3" x2="1522" y1="163.5" y2="163.5" stroke="#f23645" stroke-width="1" stroke-dasharray="1 3" shape-rendering="crispEdges"/>
</g>
<g clip-path="url(#ip)">
<path d="M1.5,583.6 L1.5,569.5 L7.5,569.5 L15.9,561.2 L24.9,561.2 L33.6,568.0 L42.3,569.2 L51.0,569.2 L59.7,572.4 L67.2,572.0 L77.2,573.0 L85.9,573.0 L103.3,573.6 L112.0,576.7 L129.4,577.1 L146.9,577.3 L155.6,578.6 L164.3,579.6 L181.7,579.6 L190.4,580.5 L199.0,582.3 L207.5,583.4 L224.3,583.4 L224.8,583.6 L233.0,583.6 L249.8,583.6 L310.8,583.6 L320.1,583.6 L328.8,583.6 L337.5,583.6 L345.6,583.6 L351.9,583.6 L353.7,581.4 L362.4,577.4 L371.1,569.3 L379.8,563.3 L389.3,552.0 L397.4,548.6 L406.1,539.6 L414.8,537.4 L423.6,533.4 L432.3,529.5 L441.0,528.6 L450.3,528.6 L459.0,524.3 L467.1,522.2 L475.8,522.2 L484.5,520.3 L493.3,519.9 L502.0,517.4 L510.1,517.1 L572.1,517.1 L579.7,578.8 L588.7,578.8 L597.6,573.0 L606.1,573.4 L623.5,573.0 L632.2,569.9 L640.9,569.9 L649.7,569.2 L658.4,569.5 L667.1,564.9 L675.8,562.2 L684.5,558.0 L693.2,559.5 L701.9,560.5 L710.6,560.5 L719.3,558.4 L728.1,556.8 L736.1,560.3 L831.9,560.3 L839.8,583.6 L840.9,583.6 L849.0,583.6 L854.6,583.6 L857.7,581.7 L866.4,580.1 L875.1,580.1 L883.8,579.2 L892.5,579.2 L901.3,576.3 L971.2,576.3 L979.9,574.8 L988.6,573.0 L996.7,572.0 L1013.5,572.0 L1022.2,571.4 L1030.9,570.2 L1039.6,568.4 L1048.3,563.0 L1057.0,558.3 L1065.7,558.7 L1126.7,558.7 L1135.4,559.0 L1144.3,559.0 L1153.1,562.8 L1161.8,562.2 L1170.5,562.7 L1187.3,561.8 L1196.6,563.9 L1205.3,565.1 L1222.1,563.6 L1230.9,563.6 L1239.6,564.9 L1248.3,563.9 L1266.3,563.6 L1275.0,568.0 L1300.5,567.6 L1309.3,569.6 L1335.5,569.6 L1343.6,573.4 L1361.0,573.6 L1387.1,573.6 L1395.8,572.6 L1431.5,572.6 L1431.5,583.6 Z" fill="#2e8b57"/>
<path d="M1.5,583.6 L1.5,583.6 L7.5,583.6 L15.9,583.6 L24.9,583.6 L33.6,583.6 L42.3,583.6 L51.0,583.6 L59.7,583.6 L67.2,583.6 L77.2,583.6 L85.9,583.6 L103.3,583.6 L112.0,583.6 L129.4,583.6 L146.9,583.6 L155.6,583.6 L164.3,583.6 L181.7,583.6 L190.4,583.6 L199.0,583.6 L207.5,583.6 L224.3,583.6 L224.8,583.6 L233.0,586.7 L249.8,588.0 L310.8,588.0 L320.1,601.7 L328.8,601.7 L337.5,597.9 L345.6,591.3 L351.9,583.6 L353.7,583.6 L362.4,583.6 L371.1,583.6 L379.8,583.6 L389.3,583.6 L397.4,583.6 L406.1,583.6 L414.8,583.6 L423.6,583.6 L432.3,583.6 L441.0,583.6 L450.3,583.6 L459.0,583.6 L467.1,583.6 L475.8,583.6 L484.5,583.6 L493.3,583.6 L502.0,583.6 L510.1,583.6 L572.1,583.6 L579.7,583.6 L588.7,583.6 L597.6,583.6 L606.1,583.6 L623.5,583.6 L632.2,583.6 L640.9,583.6 L649.7,583.6 L658.4,583.6 L667.1,583.6 L675.8,583.6 L684.5,583.6 L693.2,583.6 L701.9,583.6 L710.6,583.6 L719.3,583.6 L728.1,583.6 L736.1,583.6 L831.9,583.6 L839.8,583.6 L840.9,587.0 L849.0,587.0 L854.6,583.6 L857.7,583.6 L866.4,583.6 L875.1,583.6 L883.8,583.6 L892.5,583.6 L901.3,583.6 L971.2,583.6 L979.9,583.6 L988.6,583.6 L996.7,583.6 L1013.5,583.6 L1022.2,583.6 L1030.9,583.6 L1039.6,583.6 L1048.3,583.6 L1057.0,583.6 L1065.7,583.6 L1126.7,583.6 L1135.4,583.6 L1144.3,583.6 L1153.1,583.6 L1161.8,583.6 L1170.5,583.6 L1187.3,583.6 L1196.6,583.6 L1205.3,583.6 L1222.1,583.6 L1230.9,583.6 L1239.6,583.6 L1248.3,583.6 L1266.3,583.6 L1275.0,583.6 L1300.5,583.6 L1309.3,583.6 L1335.5,583.6 L1343.6,583.6 L1361.0,583.6 L1387.1,583.6 L1395.8,583.6 L1431.5,583.6 L1431.5,583.6 Z" fill="#e60000"/>
<path d="M1.5,569.5L7.5,569.5L15.9,561.2L24.9,561.2L33.6,568.0L42.3,569.2L51.0,569.2L59.7,572.4L67.2,572.0L77.2,573.0L85.9,573.0L103.3,573.6L112.0,576.7L129.4,577.1L146.9,577.3L155.6,578.6L164.3,579.6L181.7,579.6L190.4,580.5L199.0,582.3L207.5,583.4L224.3,583.4L233.0,586.7L249.8,588.0L310.8,588.0L320.1,601.7L328.8,601.7L337.5,597.9L345.6,591.3L353.7,581.4L362.4,577.4L371.1,569.3L379.8,563.3L389.3,552.0L397.4,548.6L406.1,539.6L414.8,537.4L423.6,533.4L432.3,529.5L441.0,528.6L450.3,528.6L459.0,524.3L467.1,522.2L475.8,522.2L484.5,520.3L493.3,519.9L502.0,517.4L510.1,517.1L572.1,517.1L579.7,578.8L588.7,578.8L597.6,573.0L606.1,573.4L623.5,573.0L632.2,569.9L640.9,569.9L649.7,569.2L658.4,569.5L667.1,564.9L675.8,562.2L684.5,558.0L693.2,559.5L701.9,560.5L710.6,560.5L719.3,558.4L728.1,556.8L736.1,560.3L831.9,560.3L840.9,587.0L849.0,587.0L857.7,581.7L866.4,580.1L875.1,580.1L883.8,579.2L892.5,579.2L901.3,576.3L971.2,576.3L979.9,574.8L988.6,573.0L996.7,572.0L1013.5,572.0L1022.2,571.4L1030.9,570.2L1039.6,568.4L1048.3,563.0L1057.0,558.3L1065.7,558.7L1126.7,558.7L1135.4,559.0L1144.3,559.0L1153.1,562.8L1161.8,562.2L1170.5,562.7L1187.3,561.8L1196.6,563.9L1205.3,565.1L1222.1,563.6L1230.9,563.6L1239.6,564.9L1248.3,563.9L1266.3,563.6L1275.0,568.0L1300.5,567.6L1309.3,569.6L1335.5,569.6L1343.6,573.4L1361.0,573.6L1387.1,573.6L1395.8,572.6L1431.5,572.6" fill="none" stroke="#2c302e" stroke-width="2.1" stroke-linejoin="round" stroke-linecap="round"/>
<line x1="2" x2="1431.5" y1="583.5" y2="583.5" stroke="#b4b4b4" stroke-opacity="0.85" stroke-width="1.8" stroke-dasharray="4.6 3.2"/>
</g>
<rect x="0" y="506" width="1607" height="1" fill="#e0e3eb"/>
<g clip-path="url(#ma)">
<text x="1533.3" y="31.099999999999998" fill="#131722" textLength="60.6" stroke="#131722" stroke-width="0.25">5,750.00</text>
<text x="1533.3" y="70.7" fill="#131722" textLength="60.6" stroke="#131722" stroke-width="0.25">5,500.00</text>
<text x="1533.3" y="110.7" fill="#131722" textLength="60.6" stroke="#131722" stroke-width="0.25">5,250.00</text>
<text x="1533.3" y="189.89999999999998" fill="#131722" textLength="60.6" stroke="#131722" stroke-width="0.25">4,750.00</text>
<text x="1533.3" y="229.7" fill="#131722" textLength="60.6" stroke="#131722" stroke-width="0.25">4,500.00</text>
<text x="1533.3" y="269.2" fill="#131722" textLength="60.6" stroke="#131722" stroke-width="0.25">4,250.00</text>
<text x="1533.3" y="308.9" fill="#131722" textLength="60.6" stroke="#131722" stroke-width="0.25">4,000.00</text>
<text x="1533.3" y="348.7" fill="#131722" textLength="60.6" stroke="#131722" stroke-width="0.25">3,750.00</text>
<text x="1533.3" y="388.2" fill="#131722" textLength="60.6" stroke="#131722" stroke-width="0.25">3,500.00</text>
<text x="1533.3" y="427.9" fill="#131722" textLength="60.6" stroke="#131722" stroke-width="0.25">3,250.00</text>
<text x="1533.3" y="467.7" fill="#131722" textLength="60.6" stroke="#131722" stroke-width="0.25">3,000.00</text>
<text x="1533.3" y="507.4" fill="#131722" textLength="60.6" stroke="#131722" stroke-width="0.25">2,750.00</text>
<path d="M1522,41H1598.5Q1601,41 1601,43.5V61.5Q1601,64 1598.5,64H1522Z" fill="#000"/><text x="1533.3" y="57.1" fill="#fff" textLength="60.6" stroke="#fff" stroke-width="0.45">5,598.25</text>
<path d="M1522,107H1598.5Q1601,107 1601,109.5V127.5Q1601,130 1598.5,130H1522Z" fill="#2962ff"/><text x="1533.3" y="123.1" fill="#fff" textLength="60.6" stroke="#fff" stroke-width="0.45">5,000.00</text>
<path d="M1522,130H1598.5Q1601,130 1601,132.5V149.5Q1601,152 1598.5,152H1522Z" fill="#ff6d00"/><text x="1533.3" y="145.6" fill="#fff" textLength="60.6" stroke="#fff" stroke-width="0.45">4,974.24</text>
<path d="M1522,152H1598.5Q1601,152 1601,154.5V172.5Q1601,175 1598.5,175H1522Z" fill="#f23645"/><text x="1533.3" y="168.1" fill="#fff" textLength="60.6" stroke="#fff" stroke-width="0.45">4,896.19</text>
<path d="M1522,200H1598.5Q1601,200 1601,202.5V220.5Q1601,223 1598.5,223H1522Z" fill="#2196f3"/><text x="1533.3" y="216.1" fill="#fff" textLength="60.6" stroke="#fff" stroke-width="0.45">4,592.95</text>
<path d="M1522,223H1598.5Q1601,223 1601,225.5V242.5Q1601,245 1598.5,245H1522Z" fill="#000"/><text x="1533.3" y="238.6" fill="#fff" textLength="60.6" stroke="#fff" stroke-width="0.45">4,549.89</text>
<path d="M1522,245H1598.5Q1601,245 1601,247.5V265.5Q1601,268 1598.5,268H1522Z" fill="#000"/><text x="1533.3" y="261.1" fill="#fff" textLength="60.6" stroke="#fff" stroke-width="0.45">4,381.67</text>
<path d="M1522,281H1598.5Q1601,281 1601,283.5V301.5Q1601,304 1598.5,304H1522Z" fill="#26c6da"/><text x="1533.3" y="297.1" fill="#131722" textLength="60.6" stroke="#131722" stroke-width="0.25">4,079.49</text>
<path d="M1522,312H1598.5Q1601,312 1601,314.5V332.5Q1601,335 1598.5,335H1522Z" fill="#000"/><text x="1533.3" y="328.1" fill="#fff" textLength="60.6" stroke="#fff" stroke-width="0.45">3,886.62</text>
</g>
<g clip-path="url(#ia)">
<text x="1533.3" y="526.3" fill="#131722" textLength="47.3" stroke="#131722" stroke-width="0.25">160.00</text>
<text x="1533.3" y="567.3" fill="#131722" textLength="47.3" stroke="#131722" stroke-width="0.25">120.00</text>
<text x="1533.3" y="608.4" fill="#131722" textLength="38.2" stroke="#131722" stroke-width="0.25">80.00</text>
<path d="M1522,562H1583.5Q1586,562 1586,564.5V581.5Q1586,584 1583.5,584H1522Z" fill="#000"/><text x="1533.3" y="578.0" fill="#fff" textLength="47.3" stroke="#fff" stroke-width="0.45">110.39</text>
<path d="M1522,584H1583.5Q1586,584 1586,586.5V604.5Q1586,607 1583.5,607H1522Z" fill="#aaaaaa"/><text x="1533.3" y="600.5" fill="#0c0e15" textLength="47.3" stroke="#0c0e15" stroke-width="0.25">100.00</text>
</g>
<text x="12.0" y="25.8" fill="#131722" textLength="92.6" font-size="14.6" stroke="#131722" stroke-width="0.25">XAU/USD, 1D</text>
<text x="113.6" y="25.8" fill="#131722" textLength="11.4" font-size="14.2" stroke="#131722" stroke-width="0.25">O</text>
<text x="124.7" y="25.8" fill="#f23645" textLength="60.9" stroke="#f23645" stroke-width="0.25">5,006.49</text>
<text x="195.0" y="25.8" fill="#131722" textLength="11.0" font-size="14.2" stroke="#131722" stroke-width="0.25">H</text>
<text x="205.9" y="25.8" fill="#f23645" textLength="60.7" stroke="#f23645" stroke-width="0.25">5,016.45</text>
<text x="275.8" y="25.8" fill="#131722" textLength="8.4" font-size="14.2" stroke="#131722" stroke-width="0.25">L</text>
<text x="284.2" y="25.8" fill="#f23645" textLength="61.5" stroke="#f23645" stroke-width="0.25">4,834.19</text>
<text x="353.6" y="25.8" fill="#131722" textLength="9.6" font-size="14.2" stroke="#131722" stroke-width="0.25">C</text>
<text x="363.7" y="25.8" fill="#f23645" textLength="61.6" stroke="#f23645" stroke-width="0.25">4,896.19</text>
<text x="435.3" y="25.8" fill="#f23645" textLength="52.3" stroke="#f23645" stroke-width="0.25">-110.30</text>
<text x="493.0" y="25.8" fill="#f23645" textLength="59.5" stroke="#f23645" stroke-width="0.25">(−2.20%)</text>
<text x="11.5" y="48.7" fill="#131722" textLength="315.0" stroke="#131722" stroke-width="0.25">Moving Average Triple (50, 100, 200, Simple)</text>
<text x="335.7" y="48.7" fill="#ff6d00" textLength="61.6" stroke="#ff6d00" stroke-width="0.25">4,974.24</text>
<text x="406.7" y="48.7" fill="#2196f3" textLength="61.1" stroke="#2196f3" stroke-width="0.25">4,592.95</text>
<text x="477.3" y="48.7" fill="#26c6da" textLength="61.5" stroke="#26c6da" stroke-width="0.25">4,079.49</text>
<text x="11.5" y="71.6" fill="#131722" textLength="196.1" stroke="#131722" stroke-width="0.25">Pivots (Traditional, Daily, 1)</text>
<text x="11.5" y="532.2" fill="#131722" textLength="227.3" stroke="#131722" stroke-width="0.25">FXS Fed Sentiment Index (close)</text>
<text x="249.2" y="532.2" fill="#131722" textLength="46.1" stroke="#131722" stroke-width="0.25">110.39</text>
<text x="305.7" y="532.2" fill="#aaaaaa" textLength="46.6" stroke="#aaaaaa" stroke-width="0.25">100.00</text>
<text x="24.7" y="634.6" fill="#131722" text-anchor="middle" font-size="14.5" stroke="#131722" stroke-width="0.25">Aug</text>
<text x="207" y="634.6" fill="#131722" text-anchor="middle" font-size="14.5" stroke="#131722" stroke-width="0.25">Sep</text>
<text x="398.5" y="634.6" fill="#131722" text-anchor="middle" font-size="14.5" stroke="#131722" stroke-width="0.25">Oct</text>
<text x="598" y="634.6" fill="#131722" text-anchor="middle" font-size="14.5" stroke="#131722" stroke-width="0.25">Nov</text>
<text x="771.2" y="634.6" fill="#131722" text-anchor="middle" font-size="14.5" stroke="#131722" stroke-width="0.25">Dec</text>
<text x="962.3" y="634.6" fill="#131722" textLength="35.5" font-weight="bold" text-anchor="middle" font-size="14.5" stroke="#131722" stroke-width="0.25">2026</text>
<text x="1153.4" y="634.6" fill="#131722" text-anchor="middle" font-size="14.5" stroke="#131722" stroke-width="0.25">Feb</text>
<text x="1326.9" y="634.6" fill="#131722" text-anchor="middle" font-size="14.5" stroke="#131722" stroke-width="0.25">Mar</text>
<text x="1439.7" y="634.6" fill="#131722" text-anchor="middle" font-size="14.5" stroke="#131722" stroke-width="0.25">19</text>
<path d="M0,0H1607V649H0Z M2,2V647H1605V2Z" fill="#eeeff4" fill-rule="evenodd"/>
</svg>
</body></html>
